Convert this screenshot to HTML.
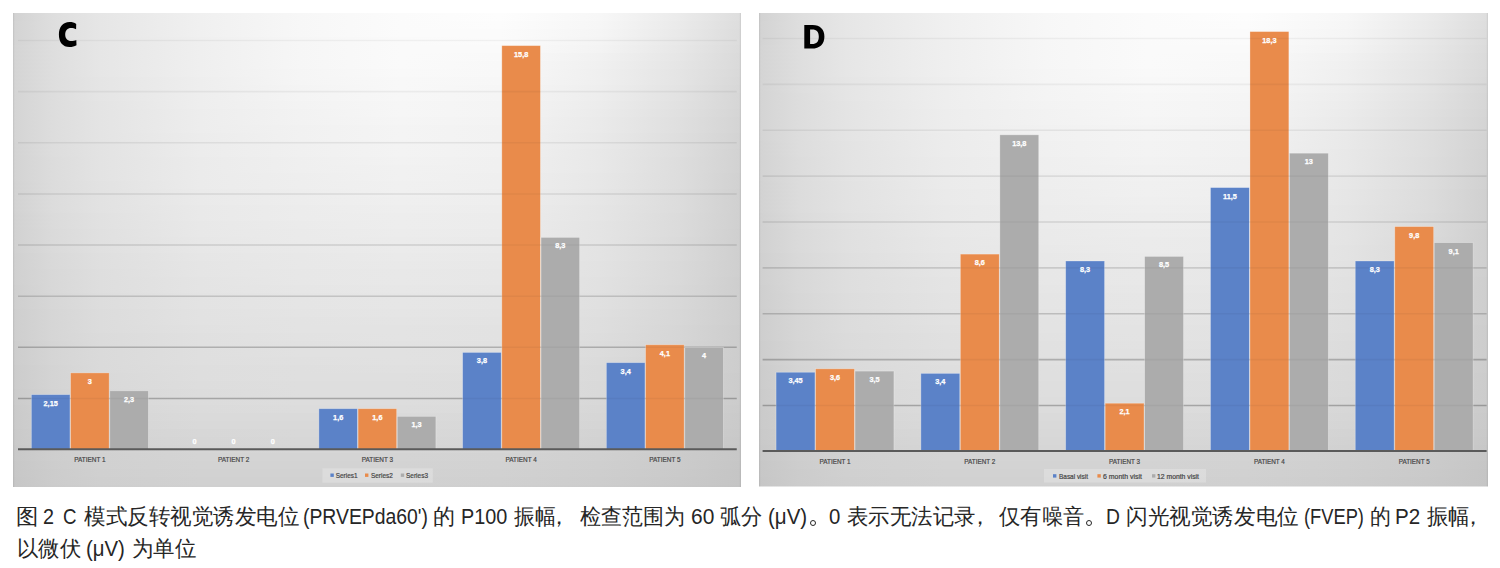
<!DOCTYPE html>
<html><head><meta charset="utf-8">
<style>
html,body{margin:0;padding:0;background:#fff;width:1500px;height:568px;overflow:hidden;}
svg{position:absolute;left:0;top:0;}
.vl{font-family:"Liberation Sans",sans-serif;font-size:7.3px;font-weight:bold;fill:#fff;stroke:#fff;stroke-width:0.25px;text-anchor:middle;}
.cl{font-family:"Liberation Sans",sans-serif;font-size:7.4px;fill:#444;stroke:#444;stroke-width:0.2px;text-anchor:middle;}
.lg{font-family:"Liberation Sans",sans-serif;font-size:7.2px;fill:#444;stroke:#444;stroke-width:0.2px;}
.ti{font-family:"Liberation Sans",sans-serif;font-size:33px;font-weight:bold;fill:#000;stroke:#000;stroke-width:1.4px;}
.dot{position:absolute;width:4.1px;height:4.1px;border:1.1px solid #262626;border-radius:50%;}
.cap{position:absolute;font-family:"Liberation Sans",sans-serif;font-size:21px;line-height:30px;color:#262626;white-space:nowrap;transform-origin:0 0;}
</style></head><body>
<svg width="1500" height="568" viewBox="0 0 1500 568">
<defs><linearGradient id="gc0" x1="0" x2="1" y1="0" y2="0"><stop offset="0.000" stop-color="rgb(210,210,210)"/><stop offset="0.055" stop-color="rgb(222,222,222)"/><stop offset="0.120" stop-color="rgb(230,230,230)"/><stop offset="0.257" stop-color="rgb(240,240,240)"/><stop offset="0.394" stop-color="rgb(247,247,247)"/><stop offset="0.532" stop-color="rgb(251,251,251)"/><stop offset="0.669" stop-color="rgb(253,253,253)"/><stop offset="0.806" stop-color="rgb(247,247,247)"/><stop offset="0.916" stop-color="rgb(235,235,235)"/><stop offset="1.000" stop-color="rgb(222,222,222)"/></linearGradient>
<linearGradient id="gc1" x1="0" x2="1" y1="0" y2="0"><stop offset="0.000" stop-color="rgb(211,211,211)"/><stop offset="0.055" stop-color="rgb(222,222,222)"/><stop offset="0.120" stop-color="rgb(230,230,230)"/><stop offset="0.257" stop-color="rgb(240,240,240)"/><stop offset="0.394" stop-color="rgb(247,247,247)"/><stop offset="0.532" stop-color="rgb(251,251,251)"/><stop offset="0.669" stop-color="rgb(252,252,252)"/><stop offset="0.806" stop-color="rgb(246,246,246)"/><stop offset="0.916" stop-color="rgb(234,234,234)"/><stop offset="1.000" stop-color="rgb(221,221,221)"/></linearGradient>
<linearGradient id="gc2" x1="0" x2="1" y1="0" y2="0"><stop offset="0.000" stop-color="rgb(211,211,211)"/><stop offset="0.055" stop-color="rgb(222,222,222)"/><stop offset="0.120" stop-color="rgb(230,230,230)"/><stop offset="0.257" stop-color="rgb(240,240,240)"/><stop offset="0.394" stop-color="rgb(247,247,247)"/><stop offset="0.532" stop-color="rgb(251,251,251)"/><stop offset="0.669" stop-color="rgb(251,251,251)"/><stop offset="0.806" stop-color="rgb(245,245,245)"/><stop offset="0.916" stop-color="rgb(233,233,233)"/><stop offset="1.000" stop-color="rgb(220,220,220)"/></linearGradient>
<linearGradient id="gc3" x1="0" x2="1" y1="0" y2="0"><stop offset="0.000" stop-color="rgb(211,211,211)"/><stop offset="0.055" stop-color="rgb(222,222,222)"/><stop offset="0.120" stop-color="rgb(230,230,230)"/><stop offset="0.257" stop-color="rgb(239,239,239)"/><stop offset="0.394" stop-color="rgb(246,246,246)"/><stop offset="0.532" stop-color="rgb(250,250,250)"/><stop offset="0.669" stop-color="rgb(251,251,251)"/><stop offset="0.806" stop-color="rgb(244,244,244)"/><stop offset="0.916" stop-color="rgb(232,232,232)"/><stop offset="1.000" stop-color="rgb(220,220,220)"/></linearGradient>
<linearGradient id="gc4" x1="0" x2="1" y1="0" y2="0"><stop offset="0.000" stop-color="rgb(212,212,212)"/><stop offset="0.055" stop-color="rgb(222,222,222)"/><stop offset="0.120" stop-color="rgb(230,230,230)"/><stop offset="0.257" stop-color="rgb(239,239,239)"/><stop offset="0.394" stop-color="rgb(246,246,246)"/><stop offset="0.532" stop-color="rgb(250,250,250)"/><stop offset="0.669" stop-color="rgb(250,250,250)"/><stop offset="0.806" stop-color="rgb(243,243,243)"/><stop offset="0.916" stop-color="rgb(231,231,231)"/><stop offset="1.000" stop-color="rgb(219,219,219)"/></linearGradient>
<linearGradient id="gc5" x1="0" x2="1" y1="0" y2="0"><stop offset="0.000" stop-color="rgb(212,212,212)"/><stop offset="0.055" stop-color="rgb(222,222,222)"/><stop offset="0.120" stop-color="rgb(230,230,230)"/><stop offset="0.257" stop-color="rgb(239,239,239)"/><stop offset="0.394" stop-color="rgb(246,246,246)"/><stop offset="0.532" stop-color="rgb(250,250,250)"/><stop offset="0.669" stop-color="rgb(249,249,249)"/><stop offset="0.806" stop-color="rgb(241,241,241)"/><stop offset="0.916" stop-color="rgb(230,230,230)"/><stop offset="1.000" stop-color="rgb(218,218,218)"/></linearGradient>
<linearGradient id="gc6" x1="0" x2="1" y1="0" y2="0"><stop offset="0.000" stop-color="rgb(212,212,212)"/><stop offset="0.055" stop-color="rgb(222,222,222)"/><stop offset="0.120" stop-color="rgb(230,230,230)"/><stop offset="0.257" stop-color="rgb(239,239,239)"/><stop offset="0.394" stop-color="rgb(246,246,246)"/><stop offset="0.532" stop-color="rgb(250,250,250)"/><stop offset="0.669" stop-color="rgb(248,248,248)"/><stop offset="0.806" stop-color="rgb(240,240,240)"/><stop offset="0.916" stop-color="rgb(229,229,229)"/><stop offset="1.000" stop-color="rgb(218,218,218)"/></linearGradient>
<linearGradient id="gc7" x1="0" x2="1" y1="0" y2="0"><stop offset="0.000" stop-color="rgb(212,212,212)"/><stop offset="0.055" stop-color="rgb(222,222,222)"/><stop offset="0.120" stop-color="rgb(230,230,230)"/><stop offset="0.257" stop-color="rgb(239,239,239)"/><stop offset="0.394" stop-color="rgb(245,245,245)"/><stop offset="0.532" stop-color="rgb(249,249,249)"/><stop offset="0.669" stop-color="rgb(248,248,248)"/><stop offset="0.806" stop-color="rgb(239,239,239)"/><stop offset="0.916" stop-color="rgb(228,228,228)"/><stop offset="1.000" stop-color="rgb(217,217,217)"/></linearGradient>
<linearGradient id="gc8" x1="0" x2="1" y1="0" y2="0"><stop offset="0.000" stop-color="rgb(212,212,212)"/><stop offset="0.055" stop-color="rgb(222,222,222)"/><stop offset="0.120" stop-color="rgb(229,229,229)"/><stop offset="0.257" stop-color="rgb(238,238,238)"/><stop offset="0.394" stop-color="rgb(245,245,245)"/><stop offset="0.532" stop-color="rgb(248,248,248)"/><stop offset="0.669" stop-color="rgb(247,247,247)"/><stop offset="0.806" stop-color="rgb(239,239,239)"/><stop offset="0.916" stop-color="rgb(228,228,228)"/><stop offset="1.000" stop-color="rgb(216,216,216)"/></linearGradient>
<linearGradient id="gc9" x1="0" x2="1" y1="0" y2="0"><stop offset="0.000" stop-color="rgb(212,212,212)"/><stop offset="0.055" stop-color="rgb(222,222,222)"/><stop offset="0.120" stop-color="rgb(229,229,229)"/><stop offset="0.257" stop-color="rgb(238,238,238)"/><stop offset="0.394" stop-color="rgb(244,244,244)"/><stop offset="0.532" stop-color="rgb(248,248,248)"/><stop offset="0.669" stop-color="rgb(246,246,246)"/><stop offset="0.806" stop-color="rgb(238,238,238)"/><stop offset="0.916" stop-color="rgb(227,227,227)"/><stop offset="1.000" stop-color="rgb(215,215,215)"/></linearGradient>
<linearGradient id="gc10" x1="0" x2="1" y1="0" y2="0"><stop offset="0.000" stop-color="rgb(212,212,212)"/><stop offset="0.055" stop-color="rgb(221,221,221)"/><stop offset="0.120" stop-color="rgb(229,229,229)"/><stop offset="0.257" stop-color="rgb(238,238,238)"/><stop offset="0.394" stop-color="rgb(244,244,244)"/><stop offset="0.532" stop-color="rgb(247,247,247)"/><stop offset="0.669" stop-color="rgb(245,245,245)"/><stop offset="0.806" stop-color="rgb(237,237,237)"/><stop offset="0.916" stop-color="rgb(226,226,226)"/><stop offset="1.000" stop-color="rgb(214,214,214)"/></linearGradient>
<linearGradient id="gc11" x1="0" x2="1" y1="0" y2="0"><stop offset="0.000" stop-color="rgb(212,212,212)"/><stop offset="0.055" stop-color="rgb(221,221,221)"/><stop offset="0.120" stop-color="rgb(228,228,228)"/><stop offset="0.257" stop-color="rgb(238,238,238)"/><stop offset="0.394" stop-color="rgb(243,243,243)"/><stop offset="0.532" stop-color="rgb(246,246,246)"/><stop offset="0.669" stop-color="rgb(244,244,244)"/><stop offset="0.806" stop-color="rgb(236,236,236)"/><stop offset="0.916" stop-color="rgb(225,225,225)"/><stop offset="1.000" stop-color="rgb(214,214,214)"/></linearGradient>
<linearGradient id="gc12" x1="0" x2="1" y1="0" y2="0"><stop offset="0.000" stop-color="rgb(212,212,212)"/><stop offset="0.055" stop-color="rgb(221,221,221)"/><stop offset="0.120" stop-color="rgb(228,228,228)"/><stop offset="0.257" stop-color="rgb(237,237,237)"/><stop offset="0.394" stop-color="rgb(242,242,242)"/><stop offset="0.532" stop-color="rgb(246,246,246)"/><stop offset="0.669" stop-color="rgb(244,244,244)"/><stop offset="0.806" stop-color="rgb(235,235,235)"/><stop offset="0.916" stop-color="rgb(224,224,224)"/><stop offset="1.000" stop-color="rgb(213,213,213)"/></linearGradient>
<linearGradient id="gc13" x1="0" x2="1" y1="0" y2="0"><stop offset="0.000" stop-color="rgb(212,212,212)"/><stop offset="0.055" stop-color="rgb(221,221,221)"/><stop offset="0.120" stop-color="rgb(228,228,228)"/><stop offset="0.257" stop-color="rgb(237,237,237)"/><stop offset="0.394" stop-color="rgb(242,242,242)"/><stop offset="0.532" stop-color="rgb(245,245,245)"/><stop offset="0.669" stop-color="rgb(243,243,243)"/><stop offset="0.806" stop-color="rgb(234,234,234)"/><stop offset="0.916" stop-color="rgb(223,223,223)"/><stop offset="1.000" stop-color="rgb(212,212,212)"/></linearGradient>
<linearGradient id="gc14" x1="0" x2="1" y1="0" y2="0"><stop offset="0.000" stop-color="rgb(212,212,212)"/><stop offset="0.055" stop-color="rgb(221,221,221)"/><stop offset="0.120" stop-color="rgb(228,228,228)"/><stop offset="0.257" stop-color="rgb(237,237,237)"/><stop offset="0.394" stop-color="rgb(241,241,241)"/><stop offset="0.532" stop-color="rgb(244,244,244)"/><stop offset="0.669" stop-color="rgb(242,242,242)"/><stop offset="0.806" stop-color="rgb(234,234,234)"/><stop offset="0.916" stop-color="rgb(223,223,223)"/><stop offset="1.000" stop-color="rgb(212,212,212)"/></linearGradient>
<linearGradient id="gc15" x1="0" x2="1" y1="0" y2="0"><stop offset="0.000" stop-color="rgb(212,212,212)"/><stop offset="0.055" stop-color="rgb(221,221,221)"/><stop offset="0.120" stop-color="rgb(228,228,228)"/><stop offset="0.257" stop-color="rgb(236,236,236)"/><stop offset="0.394" stop-color="rgb(241,241,241)"/><stop offset="0.532" stop-color="rgb(244,244,244)"/><stop offset="0.669" stop-color="rgb(242,242,242)"/><stop offset="0.806" stop-color="rgb(233,233,233)"/><stop offset="0.916" stop-color="rgb(222,222,222)"/><stop offset="1.000" stop-color="rgb(211,211,211)"/></linearGradient>
<linearGradient id="gc16" x1="0" x2="1" y1="0" y2="0"><stop offset="0.000" stop-color="rgb(211,211,211)"/><stop offset="0.055" stop-color="rgb(221,221,221)"/><stop offset="0.120" stop-color="rgb(227,227,227)"/><stop offset="0.257" stop-color="rgb(236,236,236)"/><stop offset="0.394" stop-color="rgb(240,240,240)"/><stop offset="0.532" stop-color="rgb(243,243,243)"/><stop offset="0.669" stop-color="rgb(241,241,241)"/><stop offset="0.806" stop-color="rgb(233,233,233)"/><stop offset="0.916" stop-color="rgb(222,222,222)"/><stop offset="1.000" stop-color="rgb(211,211,211)"/></linearGradient>
<linearGradient id="gc17" x1="0" x2="1" y1="0" y2="0"><stop offset="0.000" stop-color="rgb(211,211,211)"/><stop offset="0.055" stop-color="rgb(221,221,221)"/><stop offset="0.120" stop-color="rgb(227,227,227)"/><stop offset="0.257" stop-color="rgb(236,236,236)"/><stop offset="0.394" stop-color="rgb(240,240,240)"/><stop offset="0.532" stop-color="rgb(243,243,243)"/><stop offset="0.669" stop-color="rgb(241,241,241)"/><stop offset="0.806" stop-color="rgb(232,232,232)"/><stop offset="0.916" stop-color="rgb(222,222,222)"/><stop offset="1.000" stop-color="rgb(210,210,210)"/></linearGradient>
<linearGradient id="gc18" x1="0" x2="1" y1="0" y2="0"><stop offset="0.000" stop-color="rgb(211,211,211)"/><stop offset="0.055" stop-color="rgb(220,220,220)"/><stop offset="0.120" stop-color="rgb(227,227,227)"/><stop offset="0.257" stop-color="rgb(235,235,235)"/><stop offset="0.394" stop-color="rgb(239,239,239)"/><stop offset="0.532" stop-color="rgb(242,242,242)"/><stop offset="0.669" stop-color="rgb(240,240,240)"/><stop offset="0.806" stop-color="rgb(232,232,232)"/><stop offset="0.916" stop-color="rgb(221,221,221)"/><stop offset="1.000" stop-color="rgb(210,210,210)"/></linearGradient>
<linearGradient id="gc19" x1="0" x2="1" y1="0" y2="0"><stop offset="0.000" stop-color="rgb(211,211,211)"/><stop offset="0.055" stop-color="rgb(220,220,220)"/><stop offset="0.120" stop-color="rgb(227,227,227)"/><stop offset="0.257" stop-color="rgb(235,235,235)"/><stop offset="0.394" stop-color="rgb(239,239,239)"/><stop offset="0.532" stop-color="rgb(241,241,241)"/><stop offset="0.669" stop-color="rgb(240,240,240)"/><stop offset="0.806" stop-color="rgb(232,232,232)"/><stop offset="0.916" stop-color="rgb(221,221,221)"/><stop offset="1.000" stop-color="rgb(210,210,210)"/></linearGradient>
<linearGradient id="gc20" x1="0" x2="1" y1="0" y2="0"><stop offset="0.000" stop-color="rgb(211,211,211)"/><stop offset="0.055" stop-color="rgb(220,220,220)"/><stop offset="0.120" stop-color="rgb(227,227,227)"/><stop offset="0.257" stop-color="rgb(235,235,235)"/><stop offset="0.394" stop-color="rgb(238,238,238)"/><stop offset="0.532" stop-color="rgb(241,241,241)"/><stop offset="0.669" stop-color="rgb(239,239,239)"/><stop offset="0.806" stop-color="rgb(231,231,231)"/><stop offset="0.916" stop-color="rgb(221,221,221)"/><stop offset="1.000" stop-color="rgb(209,209,209)"/></linearGradient>
<linearGradient id="gc21" x1="0" x2="1" y1="0" y2="0"><stop offset="0.000" stop-color="rgb(210,210,210)"/><stop offset="0.055" stop-color="rgb(220,220,220)"/><stop offset="0.120" stop-color="rgb(226,226,226)"/><stop offset="0.257" stop-color="rgb(235,235,235)"/><stop offset="0.394" stop-color="rgb(238,238,238)"/><stop offset="0.532" stop-color="rgb(240,240,240)"/><stop offset="0.669" stop-color="rgb(239,239,239)"/><stop offset="0.806" stop-color="rgb(231,231,231)"/><stop offset="0.916" stop-color="rgb(221,221,221)"/><stop offset="1.000" stop-color="rgb(209,209,209)"/></linearGradient>
<linearGradient id="gc22" x1="0" x2="1" y1="0" y2="0"><stop offset="0.000" stop-color="rgb(210,210,210)"/><stop offset="0.055" stop-color="rgb(220,220,220)"/><stop offset="0.120" stop-color="rgb(226,226,226)"/><stop offset="0.257" stop-color="rgb(234,234,234)"/><stop offset="0.394" stop-color="rgb(237,237,237)"/><stop offset="0.532" stop-color="rgb(240,240,240)"/><stop offset="0.669" stop-color="rgb(238,238,238)"/><stop offset="0.806" stop-color="rgb(230,230,230)"/><stop offset="0.916" stop-color="rgb(220,220,220)"/><stop offset="1.000" stop-color="rgb(208,208,208)"/></linearGradient>
<linearGradient id="gc23" x1="0" x2="1" y1="0" y2="0"><stop offset="0.000" stop-color="rgb(210,210,210)"/><stop offset="0.055" stop-color="rgb(220,220,220)"/><stop offset="0.120" stop-color="rgb(226,226,226)"/><stop offset="0.257" stop-color="rgb(234,234,234)"/><stop offset="0.394" stop-color="rgb(237,237,237)"/><stop offset="0.532" stop-color="rgb(239,239,239)"/><stop offset="0.669" stop-color="rgb(238,238,238)"/><stop offset="0.806" stop-color="rgb(230,230,230)"/><stop offset="0.916" stop-color="rgb(220,220,220)"/><stop offset="1.000" stop-color="rgb(208,208,208)"/></linearGradient>
<linearGradient id="gc24" x1="0" x2="1" y1="0" y2="0"><stop offset="0.000" stop-color="rgb(210,210,210)"/><stop offset="0.055" stop-color="rgb(220,220,220)"/><stop offset="0.120" stop-color="rgb(226,226,226)"/><stop offset="0.257" stop-color="rgb(233,233,233)"/><stop offset="0.394" stop-color="rgb(236,236,236)"/><stop offset="0.532" stop-color="rgb(238,238,238)"/><stop offset="0.669" stop-color="rgb(237,237,237)"/><stop offset="0.806" stop-color="rgb(229,229,229)"/><stop offset="0.916" stop-color="rgb(220,220,220)"/><stop offset="1.000" stop-color="rgb(208,208,208)"/></linearGradient>
<linearGradient id="gc25" x1="0" x2="1" y1="0" y2="0"><stop offset="0.000" stop-color="rgb(209,209,209)"/><stop offset="0.055" stop-color="rgb(219,219,219)"/><stop offset="0.120" stop-color="rgb(225,225,225)"/><stop offset="0.257" stop-color="rgb(233,233,233)"/><stop offset="0.394" stop-color="rgb(236,236,236)"/><stop offset="0.532" stop-color="rgb(237,237,237)"/><stop offset="0.669" stop-color="rgb(236,236,236)"/><stop offset="0.806" stop-color="rgb(229,229,229)"/><stop offset="0.916" stop-color="rgb(219,219,219)"/><stop offset="1.000" stop-color="rgb(208,208,208)"/></linearGradient>
<linearGradient id="gc26" x1="0" x2="1" y1="0" y2="0"><stop offset="0.000" stop-color="rgb(209,209,209)"/><stop offset="0.055" stop-color="rgb(219,219,219)"/><stop offset="0.120" stop-color="rgb(225,225,225)"/><stop offset="0.257" stop-color="rgb(232,232,232)"/><stop offset="0.394" stop-color="rgb(235,235,235)"/><stop offset="0.532" stop-color="rgb(237,237,237)"/><stop offset="0.669" stop-color="rgb(236,236,236)"/><stop offset="0.806" stop-color="rgb(228,228,228)"/><stop offset="0.916" stop-color="rgb(219,219,219)"/><stop offset="1.000" stop-color="rgb(208,208,208)"/></linearGradient>
<linearGradient id="gc27" x1="0" x2="1" y1="0" y2="0"><stop offset="0.000" stop-color="rgb(209,209,209)"/><stop offset="0.055" stop-color="rgb(218,218,218)"/><stop offset="0.120" stop-color="rgb(224,224,224)"/><stop offset="0.257" stop-color="rgb(232,232,232)"/><stop offset="0.394" stop-color="rgb(234,234,234)"/><stop offset="0.532" stop-color="rgb(236,236,236)"/><stop offset="0.669" stop-color="rgb(235,235,235)"/><stop offset="0.806" stop-color="rgb(228,228,228)"/><stop offset="0.916" stop-color="rgb(219,219,219)"/><stop offset="1.000" stop-color="rgb(207,207,207)"/></linearGradient>
<linearGradient id="gc28" x1="0" x2="1" y1="0" y2="0"><stop offset="0.000" stop-color="rgb(209,209,209)"/><stop offset="0.055" stop-color="rgb(218,218,218)"/><stop offset="0.120" stop-color="rgb(224,224,224)"/><stop offset="0.257" stop-color="rgb(231,231,231)"/><stop offset="0.394" stop-color="rgb(234,234,234)"/><stop offset="0.532" stop-color="rgb(235,235,235)"/><stop offset="0.669" stop-color="rgb(234,234,234)"/><stop offset="0.806" stop-color="rgb(228,228,228)"/><stop offset="0.916" stop-color="rgb(218,218,218)"/><stop offset="1.000" stop-color="rgb(207,207,207)"/></linearGradient>
<linearGradient id="gc29" x1="0" x2="1" y1="0" y2="0"><stop offset="0.000" stop-color="rgb(209,209,209)"/><stop offset="0.055" stop-color="rgb(218,218,218)"/><stop offset="0.120" stop-color="rgb(224,224,224)"/><stop offset="0.257" stop-color="rgb(231,231,231)"/><stop offset="0.394" stop-color="rgb(233,233,233)"/><stop offset="0.532" stop-color="rgb(235,235,235)"/><stop offset="0.669" stop-color="rgb(234,234,234)"/><stop offset="0.806" stop-color="rgb(227,227,227)"/><stop offset="0.916" stop-color="rgb(218,218,218)"/><stop offset="1.000" stop-color="rgb(207,207,207)"/></linearGradient>
<linearGradient id="gc30" x1="0" x2="1" y1="0" y2="0"><stop offset="0.000" stop-color="rgb(208,208,208)"/><stop offset="0.055" stop-color="rgb(217,217,217)"/><stop offset="0.120" stop-color="rgb(223,223,223)"/><stop offset="0.257" stop-color="rgb(230,230,230)"/><stop offset="0.394" stop-color="rgb(232,232,232)"/><stop offset="0.532" stop-color="rgb(234,234,234)"/><stop offset="0.669" stop-color="rgb(233,233,233)"/><stop offset="0.806" stop-color="rgb(227,227,227)"/><stop offset="0.916" stop-color="rgb(218,218,218)"/><stop offset="1.000" stop-color="rgb(207,207,207)"/></linearGradient>
<linearGradient id="gc31" x1="0" x2="1" y1="0" y2="0"><stop offset="0.000" stop-color="rgb(208,208,208)"/><stop offset="0.055" stop-color="rgb(217,217,217)"/><stop offset="0.120" stop-color="rgb(223,223,223)"/><stop offset="0.257" stop-color="rgb(229,229,229)"/><stop offset="0.394" stop-color="rgb(232,232,232)"/><stop offset="0.532" stop-color="rgb(233,233,233)"/><stop offset="0.669" stop-color="rgb(232,232,232)"/><stop offset="0.806" stop-color="rgb(226,226,226)"/><stop offset="0.916" stop-color="rgb(217,217,217)"/><stop offset="1.000" stop-color="rgb(207,207,207)"/></linearGradient>
<linearGradient id="gc32" x1="0" x2="1" y1="0" y2="0"><stop offset="0.000" stop-color="rgb(208,208,208)"/><stop offset="0.055" stop-color="rgb(216,216,216)"/><stop offset="0.120" stop-color="rgb(222,222,222)"/><stop offset="0.257" stop-color="rgb(229,229,229)"/><stop offset="0.394" stop-color="rgb(231,231,231)"/><stop offset="0.532" stop-color="rgb(232,232,232)"/><stop offset="0.669" stop-color="rgb(231,231,231)"/><stop offset="0.806" stop-color="rgb(226,226,226)"/><stop offset="0.916" stop-color="rgb(217,217,217)"/><stop offset="1.000" stop-color="rgb(207,207,207)"/></linearGradient>
<linearGradient id="gc33" x1="0" x2="1" y1="0" y2="0"><stop offset="0.000" stop-color="rgb(208,208,208)"/><stop offset="0.055" stop-color="rgb(216,216,216)"/><stop offset="0.120" stop-color="rgb(222,222,222)"/><stop offset="0.257" stop-color="rgb(228,228,228)"/><stop offset="0.394" stop-color="rgb(231,231,231)"/><stop offset="0.532" stop-color="rgb(232,232,232)"/><stop offset="0.669" stop-color="rgb(231,231,231)"/><stop offset="0.806" stop-color="rgb(225,225,225)"/><stop offset="0.916" stop-color="rgb(217,217,217)"/><stop offset="1.000" stop-color="rgb(206,206,206)"/></linearGradient>
<linearGradient id="gc34" x1="0" x2="1" y1="0" y2="0"><stop offset="0.000" stop-color="rgb(207,207,207)"/><stop offset="0.055" stop-color="rgb(216,216,216)"/><stop offset="0.120" stop-color="rgb(222,222,222)"/><stop offset="0.257" stop-color="rgb(228,228,228)"/><stop offset="0.394" stop-color="rgb(230,230,230)"/><stop offset="0.532" stop-color="rgb(231,231,231)"/><stop offset="0.669" stop-color="rgb(230,230,230)"/><stop offset="0.806" stop-color="rgb(225,225,225)"/><stop offset="0.916" stop-color="rgb(216,216,216)"/><stop offset="1.000" stop-color="rgb(206,206,206)"/></linearGradient>
<linearGradient id="gc35" x1="0" x2="1" y1="0" y2="0"><stop offset="0.000" stop-color="rgb(207,207,207)"/><stop offset="0.055" stop-color="rgb(215,215,215)"/><stop offset="0.120" stop-color="rgb(221,221,221)"/><stop offset="0.257" stop-color="rgb(227,227,227)"/><stop offset="0.394" stop-color="rgb(229,229,229)"/><stop offset="0.532" stop-color="rgb(230,230,230)"/><stop offset="0.669" stop-color="rgb(229,229,229)"/><stop offset="0.806" stop-color="rgb(224,224,224)"/><stop offset="0.916" stop-color="rgb(216,216,216)"/><stop offset="1.000" stop-color="rgb(206,206,206)"/></linearGradient>
<linearGradient id="gc36" x1="0" x2="1" y1="0" y2="0"><stop offset="0.000" stop-color="rgb(207,207,207)"/><stop offset="0.055" stop-color="rgb(215,215,215)"/><stop offset="0.120" stop-color="rgb(221,221,221)"/><stop offset="0.257" stop-color="rgb(227,227,227)"/><stop offset="0.394" stop-color="rgb(229,229,229)"/><stop offset="0.532" stop-color="rgb(230,230,230)"/><stop offset="0.669" stop-color="rgb(229,229,229)"/><stop offset="0.806" stop-color="rgb(224,224,224)"/><stop offset="0.916" stop-color="rgb(216,216,216)"/><stop offset="1.000" stop-color="rgb(206,206,206)"/></linearGradient>
<linearGradient id="gc37" x1="0" x2="1" y1="0" y2="0"><stop offset="0.000" stop-color="rgb(206,206,206)"/><stop offset="0.055" stop-color="rgb(214,214,214)"/><stop offset="0.120" stop-color="rgb(220,220,220)"/><stop offset="0.257" stop-color="rgb(226,226,226)"/><stop offset="0.394" stop-color="rgb(228,228,228)"/><stop offset="0.532" stop-color="rgb(229,229,229)"/><stop offset="0.669" stop-color="rgb(228,228,228)"/><stop offset="0.806" stop-color="rgb(223,223,223)"/><stop offset="0.916" stop-color="rgb(215,215,215)"/><stop offset="1.000" stop-color="rgb(206,206,206)"/></linearGradient>
<linearGradient id="gc38" x1="0" x2="1" y1="0" y2="0"><stop offset="0.000" stop-color="rgb(206,206,206)"/><stop offset="0.055" stop-color="rgb(214,214,214)"/><stop offset="0.120" stop-color="rgb(220,220,220)"/><stop offset="0.257" stop-color="rgb(226,226,226)"/><stop offset="0.394" stop-color="rgb(227,227,227)"/><stop offset="0.532" stop-color="rgb(228,228,228)"/><stop offset="0.669" stop-color="rgb(227,227,227)"/><stop offset="0.806" stop-color="rgb(222,222,222)"/><stop offset="0.916" stop-color="rgb(215,215,215)"/><stop offset="1.000" stop-color="rgb(206,206,206)"/></linearGradient>
<linearGradient id="gc39" x1="0" x2="1" y1="0" y2="0"><stop offset="0.000" stop-color="rgb(206,206,206)"/><stop offset="0.055" stop-color="rgb(214,214,214)"/><stop offset="0.120" stop-color="rgb(220,220,220)"/><stop offset="0.257" stop-color="rgb(225,225,225)"/><stop offset="0.394" stop-color="rgb(227,227,227)"/><stop offset="0.532" stop-color="rgb(227,227,227)"/><stop offset="0.669" stop-color="rgb(226,226,226)"/><stop offset="0.806" stop-color="rgb(222,222,222)"/><stop offset="0.916" stop-color="rgb(214,214,214)"/><stop offset="1.000" stop-color="rgb(205,205,205)"/></linearGradient>
<linearGradient id="gc40" x1="0" x2="1" y1="0" y2="0"><stop offset="0.000" stop-color="rgb(206,206,206)"/><stop offset="0.055" stop-color="rgb(214,214,214)"/><stop offset="0.120" stop-color="rgb(219,219,219)"/><stop offset="0.257" stop-color="rgb(224,224,224)"/><stop offset="0.394" stop-color="rgb(226,226,226)"/><stop offset="0.532" stop-color="rgb(227,227,227)"/><stop offset="0.669" stop-color="rgb(226,226,226)"/><stop offset="0.806" stop-color="rgb(221,221,221)"/><stop offset="0.916" stop-color="rgb(214,214,214)"/><stop offset="1.000" stop-color="rgb(205,205,205)"/></linearGradient>
<linearGradient id="gc41" x1="0" x2="1" y1="0" y2="0"><stop offset="0.000" stop-color="rgb(205,205,205)"/><stop offset="0.055" stop-color="rgb(213,213,213)"/><stop offset="0.120" stop-color="rgb(219,219,219)"/><stop offset="0.257" stop-color="rgb(224,224,224)"/><stop offset="0.394" stop-color="rgb(225,225,225)"/><stop offset="0.532" stop-color="rgb(226,226,226)"/><stop offset="0.669" stop-color="rgb(225,225,225)"/><stop offset="0.806" stop-color="rgb(220,220,220)"/><stop offset="0.916" stop-color="rgb(213,213,213)"/><stop offset="1.000" stop-color="rgb(205,205,205)"/></linearGradient>
<linearGradient id="gc42" x1="0" x2="1" y1="0" y2="0"><stop offset="0.000" stop-color="rgb(205,205,205)"/><stop offset="0.055" stop-color="rgb(213,213,213)"/><stop offset="0.120" stop-color="rgb(218,218,218)"/><stop offset="0.257" stop-color="rgb(223,223,223)"/><stop offset="0.394" stop-color="rgb(225,225,225)"/><stop offset="0.532" stop-color="rgb(225,225,225)"/><stop offset="0.669" stop-color="rgb(224,224,224)"/><stop offset="0.806" stop-color="rgb(220,220,220)"/><stop offset="0.916" stop-color="rgb(213,213,213)"/><stop offset="1.000" stop-color="rgb(205,205,205)"/></linearGradient>
<linearGradient id="gc43" x1="0" x2="1" y1="0" y2="0"><stop offset="0.000" stop-color="rgb(205,205,205)"/><stop offset="0.055" stop-color="rgb(213,213,213)"/><stop offset="0.120" stop-color="rgb(218,218,218)"/><stop offset="0.257" stop-color="rgb(223,223,223)"/><stop offset="0.394" stop-color="rgb(224,224,224)"/><stop offset="0.532" stop-color="rgb(225,225,225)"/><stop offset="0.669" stop-color="rgb(224,224,224)"/><stop offset="0.806" stop-color="rgb(219,219,219)"/><stop offset="0.916" stop-color="rgb(212,212,212)"/><stop offset="1.000" stop-color="rgb(205,205,205)"/></linearGradient>
<linearGradient id="gc44" x1="0" x2="1" y1="0" y2="0"><stop offset="0.000" stop-color="rgb(204,204,204)"/><stop offset="0.055" stop-color="rgb(212,212,212)"/><stop offset="0.120" stop-color="rgb(218,218,218)"/><stop offset="0.257" stop-color="rgb(222,222,222)"/><stop offset="0.394" stop-color="rgb(223,223,223)"/><stop offset="0.532" stop-color="rgb(224,224,224)"/><stop offset="0.669" stop-color="rgb(223,223,223)"/><stop offset="0.806" stop-color="rgb(218,218,218)"/><stop offset="0.916" stop-color="rgb(212,212,212)"/><stop offset="1.000" stop-color="rgb(205,205,205)"/></linearGradient>
<linearGradient id="gc45" x1="0" x2="1" y1="0" y2="0"><stop offset="0.000" stop-color="rgb(204,204,204)"/><stop offset="0.055" stop-color="rgb(212,212,212)"/><stop offset="0.120" stop-color="rgb(217,217,217)"/><stop offset="0.257" stop-color="rgb(222,222,222)"/><stop offset="0.394" stop-color="rgb(223,223,223)"/><stop offset="0.532" stop-color="rgb(223,223,223)"/><stop offset="0.669" stop-color="rgb(222,222,222)"/><stop offset="0.806" stop-color="rgb(218,218,218)"/><stop offset="0.916" stop-color="rgb(211,211,211)"/><stop offset="1.000" stop-color="rgb(204,204,204)"/></linearGradient>
<linearGradient id="gc46" x1="0" x2="1" y1="0" y2="0"><stop offset="0.000" stop-color="rgb(204,204,204)"/><stop offset="0.055" stop-color="rgb(212,212,212)"/><stop offset="0.120" stop-color="rgb(217,217,217)"/><stop offset="0.257" stop-color="rgb(221,221,221)"/><stop offset="0.394" stop-color="rgb(222,222,222)"/><stop offset="0.532" stop-color="rgb(222,222,222)"/><stop offset="0.669" stop-color="rgb(221,221,221)"/><stop offset="0.806" stop-color="rgb(217,217,217)"/><stop offset="0.916" stop-color="rgb(211,211,211)"/><stop offset="1.000" stop-color="rgb(204,204,204)"/></linearGradient>
<linearGradient id="gc47" x1="0" x2="1" y1="0" y2="0"><stop offset="0.000" stop-color="rgb(203,203,203)"/><stop offset="0.055" stop-color="rgb(211,211,211)"/><stop offset="0.120" stop-color="rgb(216,216,216)"/><stop offset="0.257" stop-color="rgb(220,220,220)"/><stop offset="0.394" stop-color="rgb(222,222,222)"/><stop offset="0.532" stop-color="rgb(222,222,222)"/><stop offset="0.669" stop-color="rgb(221,221,221)"/><stop offset="0.806" stop-color="rgb(217,217,217)"/><stop offset="0.916" stop-color="rgb(210,210,210)"/><stop offset="1.000" stop-color="rgb(204,204,204)"/></linearGradient>
<linearGradient id="gc48" x1="0" x2="1" y1="0" y2="0"><stop offset="0.000" stop-color="rgb(203,203,203)"/><stop offset="0.055" stop-color="rgb(211,211,211)"/><stop offset="0.120" stop-color="rgb(216,216,216)"/><stop offset="0.257" stop-color="rgb(220,220,220)"/><stop offset="0.394" stop-color="rgb(221,221,221)"/><stop offset="0.532" stop-color="rgb(221,221,221)"/><stop offset="0.669" stop-color="rgb(220,220,220)"/><stop offset="0.806" stop-color="rgb(216,216,216)"/><stop offset="0.916" stop-color="rgb(210,210,210)"/><stop offset="1.000" stop-color="rgb(204,204,204)"/></linearGradient>
<linearGradient id="gc49" x1="0" x2="1" y1="0" y2="0"><stop offset="0.000" stop-color="rgb(202,202,202)"/><stop offset="0.055" stop-color="rgb(210,210,210)"/><stop offset="0.120" stop-color="rgb(215,215,215)"/><stop offset="0.257" stop-color="rgb(219,219,219)"/><stop offset="0.394" stop-color="rgb(220,220,220)"/><stop offset="0.532" stop-color="rgb(220,220,220)"/><stop offset="0.669" stop-color="rgb(219,219,219)"/><stop offset="0.806" stop-color="rgb(215,215,215)"/><stop offset="0.916" stop-color="rgb(209,209,209)"/><stop offset="1.000" stop-color="rgb(203,203,203)"/></linearGradient>
<linearGradient id="gc50" x1="0" x2="1" y1="0" y2="0"><stop offset="0.000" stop-color="rgb(202,202,202)"/><stop offset="0.055" stop-color="rgb(209,209,209)"/><stop offset="0.120" stop-color="rgb(214,214,214)"/><stop offset="0.257" stop-color="rgb(218,218,218)"/><stop offset="0.394" stop-color="rgb(218,218,218)"/><stop offset="0.532" stop-color="rgb(218,218,218)"/><stop offset="0.669" stop-color="rgb(217,217,217)"/><stop offset="0.806" stop-color="rgb(214,214,214)"/><stop offset="0.916" stop-color="rgb(208,208,208)"/><stop offset="1.000" stop-color="rgb(202,202,202)"/></linearGradient>
<linearGradient id="gc51" x1="0" x2="1" y1="0" y2="0"><stop offset="0.000" stop-color="rgb(202,202,202)"/><stop offset="0.055" stop-color="rgb(209,209,209)"/><stop offset="0.120" stop-color="rgb(213,213,213)"/><stop offset="0.257" stop-color="rgb(217,217,217)"/><stop offset="0.394" stop-color="rgb(217,217,217)"/><stop offset="0.532" stop-color="rgb(217,217,217)"/><stop offset="0.669" stop-color="rgb(216,216,216)"/><stop offset="0.806" stop-color="rgb(213,213,213)"/><stop offset="0.916" stop-color="rgb(207,207,207)"/><stop offset="1.000" stop-color="rgb(202,202,202)"/></linearGradient>
<linearGradient id="gc52" x1="0" x2="1" y1="0" y2="0"><stop offset="0.000" stop-color="rgb(201,201,201)"/><stop offset="0.055" stop-color="rgb(208,208,208)"/><stop offset="0.120" stop-color="rgb(212,212,212)"/><stop offset="0.257" stop-color="rgb(215,215,215)"/><stop offset="0.394" stop-color="rgb(216,216,216)"/><stop offset="0.532" stop-color="rgb(216,216,216)"/><stop offset="0.669" stop-color="rgb(215,215,215)"/><stop offset="0.806" stop-color="rgb(211,211,211)"/><stop offset="0.916" stop-color="rgb(206,206,206)"/><stop offset="1.000" stop-color="rgb(201,201,201)"/></linearGradient>
<linearGradient id="gc53" x1="0" x2="1" y1="0" y2="0"><stop offset="0.000" stop-color="rgb(201,201,201)"/><stop offset="0.055" stop-color="rgb(207,207,207)"/><stop offset="0.120" stop-color="rgb(211,211,211)"/><stop offset="0.257" stop-color="rgb(214,214,214)"/><stop offset="0.394" stop-color="rgb(215,215,215)"/><stop offset="0.532" stop-color="rgb(215,215,215)"/><stop offset="0.669" stop-color="rgb(214,214,214)"/><stop offset="0.806" stop-color="rgb(210,210,210)"/><stop offset="0.916" stop-color="rgb(205,205,205)"/><stop offset="1.000" stop-color="rgb(200,200,200)"/></linearGradient>
<linearGradient id="gc54" x1="0" x2="1" y1="0" y2="0"><stop offset="0.000" stop-color="rgb(200,200,200)"/><stop offset="0.055" stop-color="rgb(206,206,206)"/><stop offset="0.120" stop-color="rgb(210,210,210)"/><stop offset="0.257" stop-color="rgb(213,213,213)"/><stop offset="0.394" stop-color="rgb(214,214,214)"/><stop offset="0.532" stop-color="rgb(214,214,214)"/><stop offset="0.669" stop-color="rgb(213,213,213)"/><stop offset="0.806" stop-color="rgb(209,209,209)"/><stop offset="0.916" stop-color="rgb(204,204,204)"/><stop offset="1.000" stop-color="rgb(199,199,199)"/></linearGradient>
<linearGradient id="gc55" x1="0" x2="1" y1="0" y2="0"><stop offset="0.000" stop-color="rgb(200,200,200)"/><stop offset="0.055" stop-color="rgb(206,206,206)"/><stop offset="0.120" stop-color="rgb(209,209,209)"/><stop offset="0.257" stop-color="rgb(212,212,212)"/><stop offset="0.394" stop-color="rgb(212,212,212)"/><stop offset="0.532" stop-color="rgb(212,212,212)"/><stop offset="0.669" stop-color="rgb(211,211,211)"/><stop offset="0.806" stop-color="rgb(208,208,208)"/><stop offset="0.916" stop-color="rgb(203,203,203)"/><stop offset="1.000" stop-color="rgb(199,199,199)"/></linearGradient>
<linearGradient id="gc56" x1="0" x2="1" y1="0" y2="0"><stop offset="0.000" stop-color="rgb(199,199,199)"/><stop offset="0.055" stop-color="rgb(205,205,205)"/><stop offset="0.120" stop-color="rgb(209,209,209)"/><stop offset="0.257" stop-color="rgb(211,211,211)"/><stop offset="0.394" stop-color="rgb(211,211,211)"/><stop offset="0.532" stop-color="rgb(211,211,211)"/><stop offset="0.669" stop-color="rgb(210,210,210)"/><stop offset="0.806" stop-color="rgb(207,207,207)"/><stop offset="0.916" stop-color="rgb(203,203,203)"/><stop offset="1.000" stop-color="rgb(198,198,198)"/></linearGradient>
<linearGradient id="gc57" x1="0" x2="1" y1="0" y2="0"><stop offset="0.000" stop-color="rgb(199,199,199)"/><stop offset="0.055" stop-color="rgb(204,204,204)"/><stop offset="0.120" stop-color="rgb(208,208,208)"/><stop offset="0.257" stop-color="rgb(210,210,210)"/><stop offset="0.394" stop-color="rgb(210,210,210)"/><stop offset="0.532" stop-color="rgb(210,210,210)"/><stop offset="0.669" stop-color="rgb(209,209,209)"/><stop offset="0.806" stop-color="rgb(206,206,206)"/><stop offset="0.916" stop-color="rgb(202,202,202)"/><stop offset="1.000" stop-color="rgb(197,197,197)"/></linearGradient>
<linearGradient id="gc58" x1="0" x2="1" y1="0" y2="0"><stop offset="0.000" stop-color="rgb(198,198,198)"/><stop offset="0.055" stop-color="rgb(204,204,204)"/><stop offset="0.120" stop-color="rgb(207,207,207)"/><stop offset="0.257" stop-color="rgb(209,209,209)"/><stop offset="0.394" stop-color="rgb(209,209,209)"/><stop offset="0.532" stop-color="rgb(209,209,209)"/><stop offset="0.669" stop-color="rgb(208,208,208)"/><stop offset="0.806" stop-color="rgb(205,205,205)"/><stop offset="0.916" stop-color="rgb(201,201,201)"/><stop offset="1.000" stop-color="rgb(197,197,197)"/></linearGradient>
<linearGradient id="gc59" x1="0" x2="1" y1="0" y2="0"><stop offset="0.000" stop-color="rgb(198,198,198)"/><stop offset="0.055" stop-color="rgb(203,203,203)"/><stop offset="0.120" stop-color="rgb(206,206,206)"/><stop offset="0.257" stop-color="rgb(208,208,208)"/><stop offset="0.394" stop-color="rgb(208,208,208)"/><stop offset="0.532" stop-color="rgb(208,208,208)"/><stop offset="0.669" stop-color="rgb(207,207,207)"/><stop offset="0.806" stop-color="rgb(204,204,204)"/><stop offset="0.916" stop-color="rgb(200,200,200)"/><stop offset="1.000" stop-color="rgb(196,196,196)"/></linearGradient></defs>
<rect x="13" y="13" width="728" height="8.5" fill="url(#gc0)"/>
<rect x="13" y="21" width="728" height="8.5" fill="url(#gc1)"/>
<rect x="13" y="29" width="728" height="8.5" fill="url(#gc2)"/>
<rect x="13" y="37" width="728" height="8.5" fill="url(#gc3)"/>
<rect x="13" y="45" width="728" height="8.5" fill="url(#gc4)"/>
<rect x="13" y="53" width="728" height="8.5" fill="url(#gc5)"/>
<rect x="13" y="61" width="728" height="8.5" fill="url(#gc6)"/>
<rect x="13" y="69" width="728" height="8.5" fill="url(#gc7)"/>
<rect x="13" y="77" width="728" height="8.5" fill="url(#gc8)"/>
<rect x="13" y="85" width="728" height="8.5" fill="url(#gc9)"/>
<rect x="13" y="93" width="728" height="8.5" fill="url(#gc10)"/>
<rect x="13" y="101" width="728" height="8.5" fill="url(#gc11)"/>
<rect x="13" y="109" width="728" height="8.5" fill="url(#gc12)"/>
<rect x="13" y="117" width="728" height="8.5" fill="url(#gc13)"/>
<rect x="13" y="125" width="728" height="8.5" fill="url(#gc14)"/>
<rect x="13" y="133" width="728" height="8.5" fill="url(#gc15)"/>
<rect x="13" y="141" width="728" height="8.5" fill="url(#gc16)"/>
<rect x="13" y="149" width="728" height="8.5" fill="url(#gc17)"/>
<rect x="13" y="157" width="728" height="8.5" fill="url(#gc18)"/>
<rect x="13" y="165" width="728" height="8.5" fill="url(#gc19)"/>
<rect x="13" y="173" width="728" height="8.5" fill="url(#gc20)"/>
<rect x="13" y="181" width="728" height="8.5" fill="url(#gc21)"/>
<rect x="13" y="189" width="728" height="8.5" fill="url(#gc22)"/>
<rect x="13" y="197" width="728" height="8.5" fill="url(#gc23)"/>
<rect x="13" y="205" width="728" height="8.5" fill="url(#gc24)"/>
<rect x="13" y="213" width="728" height="8.5" fill="url(#gc25)"/>
<rect x="13" y="221" width="728" height="8.5" fill="url(#gc26)"/>
<rect x="13" y="229" width="728" height="8.5" fill="url(#gc27)"/>
<rect x="13" y="237" width="728" height="8.5" fill="url(#gc28)"/>
<rect x="13" y="245" width="728" height="8.5" fill="url(#gc29)"/>
<rect x="13" y="253" width="728" height="8.5" fill="url(#gc30)"/>
<rect x="13" y="261" width="728" height="8.5" fill="url(#gc31)"/>
<rect x="13" y="269" width="728" height="8.5" fill="url(#gc32)"/>
<rect x="13" y="277" width="728" height="8.5" fill="url(#gc33)"/>
<rect x="13" y="285" width="728" height="8.5" fill="url(#gc34)"/>
<rect x="13" y="293" width="728" height="8.5" fill="url(#gc35)"/>
<rect x="13" y="301" width="728" height="8.5" fill="url(#gc36)"/>
<rect x="13" y="309" width="728" height="8.5" fill="url(#gc37)"/>
<rect x="13" y="317" width="728" height="8.5" fill="url(#gc38)"/>
<rect x="13" y="325" width="728" height="8.5" fill="url(#gc39)"/>
<rect x="13" y="333" width="728" height="8.5" fill="url(#gc40)"/>
<rect x="13" y="341" width="728" height="8.5" fill="url(#gc41)"/>
<rect x="13" y="349" width="728" height="8.5" fill="url(#gc42)"/>
<rect x="13" y="357" width="728" height="8.5" fill="url(#gc43)"/>
<rect x="13" y="365" width="728" height="8.5" fill="url(#gc44)"/>
<rect x="13" y="373" width="728" height="8.5" fill="url(#gc45)"/>
<rect x="13" y="381" width="728" height="8.5" fill="url(#gc46)"/>
<rect x="13" y="389" width="728" height="8.5" fill="url(#gc47)"/>
<rect x="13" y="397" width="728" height="8.5" fill="url(#gc48)"/>
<rect x="13" y="405" width="728" height="8.5" fill="url(#gc49)"/>
<rect x="13" y="413" width="728" height="8.5" fill="url(#gc50)"/>
<rect x="13" y="421" width="728" height="8.5" fill="url(#gc51)"/>
<rect x="13" y="429" width="728" height="8.5" fill="url(#gc52)"/>
<rect x="13" y="437" width="728" height="8.5" fill="url(#gc53)"/>
<rect x="13" y="445" width="728" height="8.5" fill="url(#gc54)"/>
<rect x="13" y="453" width="728" height="8.5" fill="url(#gc55)"/>
<rect x="13" y="461" width="728" height="8.5" fill="url(#gc56)"/>
<rect x="13" y="469" width="728" height="8.5" fill="url(#gc57)"/>
<rect x="13" y="477" width="728" height="8.5" fill="url(#gc58)"/>
<rect x="13" y="485" width="728" height="2" fill="url(#gc59)"/>
<rect x="13" y="13" width="1.2" height="474" fill="rgba(0,0,0,0.06)"/>
<rect x="739.8" y="13" width="1.2" height="474" fill="rgba(0,0,0,0.06)"/>
<line x1="18" x2="736.75" y1="398.45" y2="398.45" stroke="rgba(0,0,0,0.250)" stroke-width="1.6"/>
<line x1="18" x2="736.75" y1="347.32" y2="347.32" stroke="rgba(0,0,0,0.220)" stroke-width="1.6"/>
<line x1="18" x2="736.75" y1="296.19" y2="296.19" stroke="rgba(0,0,0,0.150)" stroke-width="1.6"/>
<line x1="18" x2="736.75" y1="245.06" y2="245.06" stroke="rgba(0,0,0,0.120)" stroke-width="1.6"/>
<line x1="18" x2="736.75" y1="193.93" y2="193.93" stroke="rgba(0,0,0,0.090)" stroke-width="1.6"/>
<line x1="18" x2="736.75" y1="142.80" y2="142.80" stroke="rgba(0,0,0,0.065)" stroke-width="1.6"/>
<line x1="18" x2="736.75" y1="91.67" y2="91.67" stroke="rgba(0,0,0,0.050)" stroke-width="1.6"/>
<line x1="18" x2="736.75" y1="40.54" y2="40.54" stroke="rgba(0,0,0,0.045)" stroke-width="1.6"/>
<rect x="31.37" y="394.62" width="38.60" height="54.96" fill="#5b82c8" stroke="rgba(255,255,255,0.35)" stroke-width="0.8"/>
<rect x="70.57" y="372.88" width="38.60" height="76.69" fill="#e98b4b" stroke="rgba(255,255,255,0.35)" stroke-width="0.8"/>
<rect x="109.78" y="390.78" width="38.60" height="58.80" fill="#acacac" stroke="rgba(255,255,255,0.35)" stroke-width="0.8"/>
<rect x="318.87" y="408.68" width="38.60" height="40.90" fill="#5b82c8" stroke="rgba(255,255,255,0.35)" stroke-width="0.8"/>
<rect x="358.07" y="408.68" width="38.60" height="40.90" fill="#e98b4b" stroke="rgba(255,255,255,0.35)" stroke-width="0.8"/>
<rect x="397.28" y="416.35" width="38.60" height="33.23" fill="#acacac" stroke="rgba(255,255,255,0.35)" stroke-width="0.8"/>
<rect x="462.62" y="352.43" width="38.60" height="97.15" fill="#5b82c8" stroke="rgba(255,255,255,0.35)" stroke-width="0.8"/>
<rect x="501.82" y="45.65" width="38.60" height="403.93" fill="#e98b4b" stroke="rgba(255,255,255,0.35)" stroke-width="0.8"/>
<rect x="541.03" y="237.39" width="38.60" height="212.19" fill="#acacac" stroke="rgba(255,255,255,0.35)" stroke-width="0.8"/>
<rect x="606.37" y="362.66" width="38.60" height="86.92" fill="#5b82c8" stroke="rgba(255,255,255,0.35)" stroke-width="0.8"/>
<rect x="645.57" y="344.76" width="38.60" height="104.82" fill="#e98b4b" stroke="rgba(255,255,255,0.35)" stroke-width="0.8"/>
<rect x="684.78" y="347.32" width="38.60" height="102.26" fill="#acacac" stroke="rgba(255,255,255,0.35)" stroke-width="0.8"/>
<line x1="31.07" x2="70.27" y1="398.45" y2="398.45" stroke="rgba(0,0,0,0.04)" stroke-width="1.6"/>
<line x1="70.27" x2="109.48" y1="398.45" y2="398.45" stroke="rgba(0,0,0,0.04)" stroke-width="1.6"/>
<line x1="109.48" x2="148.68" y1="398.45" y2="398.45" stroke="rgba(0,0,0,0.04)" stroke-width="1.6"/>
<line x1="462.32" x2="501.52" y1="398.45" y2="398.45" stroke="rgba(0,0,0,0.04)" stroke-width="1.6"/>
<line x1="501.52" x2="540.73" y1="398.45" y2="398.45" stroke="rgba(0,0,0,0.04)" stroke-width="1.6"/>
<line x1="501.52" x2="540.73" y1="347.32" y2="347.32" stroke="rgba(0,0,0,0.04)" stroke-width="1.6"/>
<line x1="501.52" x2="540.73" y1="296.19" y2="296.19" stroke="rgba(0,0,0,0.04)" stroke-width="1.6"/>
<line x1="501.52" x2="540.73" y1="245.06" y2="245.06" stroke="rgba(0,0,0,0.04)" stroke-width="1.6"/>
<line x1="501.52" x2="540.73" y1="193.93" y2="193.93" stroke="rgba(0,0,0,0.04)" stroke-width="1.6"/>
<line x1="501.52" x2="540.73" y1="142.80" y2="142.80" stroke="rgba(0,0,0,0.04)" stroke-width="1.6"/>
<line x1="501.52" x2="540.73" y1="91.67" y2="91.67" stroke="rgba(0,0,0,0.04)" stroke-width="1.6"/>
<line x1="540.73" x2="579.93" y1="398.45" y2="398.45" stroke="rgba(0,0,0,0.04)" stroke-width="1.6"/>
<line x1="540.73" x2="579.93" y1="347.32" y2="347.32" stroke="rgba(0,0,0,0.04)" stroke-width="1.6"/>
<line x1="540.73" x2="579.93" y1="296.19" y2="296.19" stroke="rgba(0,0,0,0.04)" stroke-width="1.6"/>
<line x1="540.73" x2="579.93" y1="245.06" y2="245.06" stroke="rgba(0,0,0,0.04)" stroke-width="1.6"/>
<line x1="606.07" x2="645.27" y1="398.45" y2="398.45" stroke="rgba(0,0,0,0.04)" stroke-width="1.6"/>
<line x1="645.27" x2="684.48" y1="398.45" y2="398.45" stroke="rgba(0,0,0,0.04)" stroke-width="1.6"/>
<line x1="645.27" x2="684.48" y1="347.32" y2="347.32" stroke="rgba(0,0,0,0.04)" stroke-width="1.6"/>
<line x1="684.48" x2="723.68" y1="398.45" y2="398.45" stroke="rgba(0,0,0,0.04)" stroke-width="1.6"/>
<text x="50.67" y="405.62" class="vl">2,15</text>
<text x="89.88" y="383.88" class="vl">3</text>
<text x="129.08" y="401.78" class="vl">2,3</text>
<text x="194.42" y="444.08" class="vl">0</text>
<text x="233.62" y="444.08" class="vl">0</text>
<text x="272.83" y="444.08" class="vl">0</text>
<text x="338.17" y="419.68" class="vl">1,6</text>
<text x="377.38" y="419.68" class="vl">1,6</text>
<text x="416.58" y="427.35" class="vl">1,3</text>
<text x="481.92" y="363.43" class="vl">3,8</text>
<text x="521.12" y="56.65" class="vl">15,8</text>
<text x="560.33" y="248.39" class="vl">8,3</text>
<text x="625.67" y="373.66" class="vl">3,4</text>
<text x="664.88" y="355.76" class="vl">4,1</text>
<text x="704.08" y="358.32" class="vl">4</text>
<line x1="18" x2="736.75" y1="449.28" y2="449.28" stroke="#5a5a5a" stroke-width="2"/>
<text x="89.88" y="461.88" class="cl" textLength="31.3" lengthAdjust="spacingAndGlyphs">PATIENT 1</text>
<text x="233.62" y="461.88" class="cl" textLength="31.3" lengthAdjust="spacingAndGlyphs">PATIENT 2</text>
<text x="377.38" y="461.88" class="cl" textLength="31.3" lengthAdjust="spacingAndGlyphs">PATIENT 3</text>
<text x="521.12" y="461.88" class="cl" textLength="31.3" lengthAdjust="spacingAndGlyphs">PATIENT 4</text>
<text x="664.88" y="461.88" class="cl" textLength="31.3" lengthAdjust="spacingAndGlyphs">PATIENT 5</text>
<rect x="322.4" y="468.3" width="110.4" height="14.4" fill="rgba(255,255,255,0.22)"/>
<rect x="330.4" y="473.5" width="3.4" height="3.4" fill="#5b82c8"/>
<text x="335.7" y="477.90000000000003" class="lg" textLength="21.9" lengthAdjust="spacingAndGlyphs">Series1</text>
<rect x="365" y="473.5" width="3.4" height="3.4" fill="#e98b4b"/>
<text x="371" y="477.90000000000003" class="lg" textLength="21.8" lengthAdjust="spacingAndGlyphs">Series2</text>
<rect x="400.8" y="473.5" width="3.4" height="3.4" fill="#acacac"/>
<text x="406" y="477.90000000000003" class="lg" textLength="22" lengthAdjust="spacingAndGlyphs">Series3</text>
<path d="M76.2 23.9 C74.5 22.5 72.2 21.9 69.6 21.9 C62.8 21.9 58.9 26.8 58.9 34.6 C58.9 42.4 62.8 47.1 69.4 47.1 C72.3 47.1 74.6 46.5 76.5 45.3 L76.3 39.9 C74.8 40.6 73.2 41.0 71.2 41.0 C67.5 41.0 65.2 38.5 65.2 34.5 C65.2 30.4 67.5 27.9 71.1 27.9 C72.9 27.9 74.5 28.4 76.1 29.3 Z" fill="#000"/>
<defs><linearGradient id="gd0" x1="0" x2="1" y1="0" y2="0"><stop offset="0.000" stop-color="rgb(210,210,210)"/><stop offset="0.055" stop-color="rgb(222,222,222)"/><stop offset="0.120" stop-color="rgb(230,230,230)"/><stop offset="0.257" stop-color="rgb(240,240,240)"/><stop offset="0.394" stop-color="rgb(247,247,247)"/><stop offset="0.532" stop-color="rgb(251,251,251)"/><stop offset="0.669" stop-color="rgb(253,253,253)"/><stop offset="0.806" stop-color="rgb(247,247,247)"/><stop offset="0.916" stop-color="rgb(235,235,235)"/><stop offset="1.000" stop-color="rgb(222,222,222)"/></linearGradient>
<linearGradient id="gd1" x1="0" x2="1" y1="0" y2="0"><stop offset="0.000" stop-color="rgb(211,211,211)"/><stop offset="0.055" stop-color="rgb(222,222,222)"/><stop offset="0.120" stop-color="rgb(230,230,230)"/><stop offset="0.257" stop-color="rgb(240,240,240)"/><stop offset="0.394" stop-color="rgb(247,247,247)"/><stop offset="0.532" stop-color="rgb(251,251,251)"/><stop offset="0.669" stop-color="rgb(252,252,252)"/><stop offset="0.806" stop-color="rgb(246,246,246)"/><stop offset="0.916" stop-color="rgb(234,234,234)"/><stop offset="1.000" stop-color="rgb(221,221,221)"/></linearGradient>
<linearGradient id="gd2" x1="0" x2="1" y1="0" y2="0"><stop offset="0.000" stop-color="rgb(211,211,211)"/><stop offset="0.055" stop-color="rgb(222,222,222)"/><stop offset="0.120" stop-color="rgb(230,230,230)"/><stop offset="0.257" stop-color="rgb(240,240,240)"/><stop offset="0.394" stop-color="rgb(247,247,247)"/><stop offset="0.532" stop-color="rgb(251,251,251)"/><stop offset="0.669" stop-color="rgb(251,251,251)"/><stop offset="0.806" stop-color="rgb(245,245,245)"/><stop offset="0.916" stop-color="rgb(233,233,233)"/><stop offset="1.000" stop-color="rgb(220,220,220)"/></linearGradient>
<linearGradient id="gd3" x1="0" x2="1" y1="0" y2="0"><stop offset="0.000" stop-color="rgb(211,211,211)"/><stop offset="0.055" stop-color="rgb(222,222,222)"/><stop offset="0.120" stop-color="rgb(230,230,230)"/><stop offset="0.257" stop-color="rgb(239,239,239)"/><stop offset="0.394" stop-color="rgb(246,246,246)"/><stop offset="0.532" stop-color="rgb(250,250,250)"/><stop offset="0.669" stop-color="rgb(251,251,251)"/><stop offset="0.806" stop-color="rgb(244,244,244)"/><stop offset="0.916" stop-color="rgb(232,232,232)"/><stop offset="1.000" stop-color="rgb(220,220,220)"/></linearGradient>
<linearGradient id="gd4" x1="0" x2="1" y1="0" y2="0"><stop offset="0.000" stop-color="rgb(212,212,212)"/><stop offset="0.055" stop-color="rgb(222,222,222)"/><stop offset="0.120" stop-color="rgb(230,230,230)"/><stop offset="0.257" stop-color="rgb(239,239,239)"/><stop offset="0.394" stop-color="rgb(246,246,246)"/><stop offset="0.532" stop-color="rgb(250,250,250)"/><stop offset="0.669" stop-color="rgb(250,250,250)"/><stop offset="0.806" stop-color="rgb(243,243,243)"/><stop offset="0.916" stop-color="rgb(231,231,231)"/><stop offset="1.000" stop-color="rgb(219,219,219)"/></linearGradient>
<linearGradient id="gd5" x1="0" x2="1" y1="0" y2="0"><stop offset="0.000" stop-color="rgb(212,212,212)"/><stop offset="0.055" stop-color="rgb(222,222,222)"/><stop offset="0.120" stop-color="rgb(230,230,230)"/><stop offset="0.257" stop-color="rgb(239,239,239)"/><stop offset="0.394" stop-color="rgb(246,246,246)"/><stop offset="0.532" stop-color="rgb(250,250,250)"/><stop offset="0.669" stop-color="rgb(249,249,249)"/><stop offset="0.806" stop-color="rgb(241,241,241)"/><stop offset="0.916" stop-color="rgb(230,230,230)"/><stop offset="1.000" stop-color="rgb(218,218,218)"/></linearGradient>
<linearGradient id="gd6" x1="0" x2="1" y1="0" y2="0"><stop offset="0.000" stop-color="rgb(212,212,212)"/><stop offset="0.055" stop-color="rgb(222,222,222)"/><stop offset="0.120" stop-color="rgb(230,230,230)"/><stop offset="0.257" stop-color="rgb(239,239,239)"/><stop offset="0.394" stop-color="rgb(246,246,246)"/><stop offset="0.532" stop-color="rgb(250,250,250)"/><stop offset="0.669" stop-color="rgb(248,248,248)"/><stop offset="0.806" stop-color="rgb(240,240,240)"/><stop offset="0.916" stop-color="rgb(229,229,229)"/><stop offset="1.000" stop-color="rgb(218,218,218)"/></linearGradient>
<linearGradient id="gd7" x1="0" x2="1" y1="0" y2="0"><stop offset="0.000" stop-color="rgb(212,212,212)"/><stop offset="0.055" stop-color="rgb(222,222,222)"/><stop offset="0.120" stop-color="rgb(230,230,230)"/><stop offset="0.257" stop-color="rgb(239,239,239)"/><stop offset="0.394" stop-color="rgb(245,245,245)"/><stop offset="0.532" stop-color="rgb(249,249,249)"/><stop offset="0.669" stop-color="rgb(248,248,248)"/><stop offset="0.806" stop-color="rgb(239,239,239)"/><stop offset="0.916" stop-color="rgb(228,228,228)"/><stop offset="1.000" stop-color="rgb(217,217,217)"/></linearGradient>
<linearGradient id="gd8" x1="0" x2="1" y1="0" y2="0"><stop offset="0.000" stop-color="rgb(212,212,212)"/><stop offset="0.055" stop-color="rgb(222,222,222)"/><stop offset="0.120" stop-color="rgb(229,229,229)"/><stop offset="0.257" stop-color="rgb(238,238,238)"/><stop offset="0.394" stop-color="rgb(245,245,245)"/><stop offset="0.532" stop-color="rgb(248,248,248)"/><stop offset="0.669" stop-color="rgb(247,247,247)"/><stop offset="0.806" stop-color="rgb(239,239,239)"/><stop offset="0.916" stop-color="rgb(228,228,228)"/><stop offset="1.000" stop-color="rgb(216,216,216)"/></linearGradient>
<linearGradient id="gd9" x1="0" x2="1" y1="0" y2="0"><stop offset="0.000" stop-color="rgb(212,212,212)"/><stop offset="0.055" stop-color="rgb(222,222,222)"/><stop offset="0.120" stop-color="rgb(229,229,229)"/><stop offset="0.257" stop-color="rgb(238,238,238)"/><stop offset="0.394" stop-color="rgb(244,244,244)"/><stop offset="0.532" stop-color="rgb(248,248,248)"/><stop offset="0.669" stop-color="rgb(246,246,246)"/><stop offset="0.806" stop-color="rgb(238,238,238)"/><stop offset="0.916" stop-color="rgb(227,227,227)"/><stop offset="1.000" stop-color="rgb(215,215,215)"/></linearGradient>
<linearGradient id="gd10" x1="0" x2="1" y1="0" y2="0"><stop offset="0.000" stop-color="rgb(212,212,212)"/><stop offset="0.055" stop-color="rgb(221,221,221)"/><stop offset="0.120" stop-color="rgb(229,229,229)"/><stop offset="0.257" stop-color="rgb(238,238,238)"/><stop offset="0.394" stop-color="rgb(244,244,244)"/><stop offset="0.532" stop-color="rgb(247,247,247)"/><stop offset="0.669" stop-color="rgb(245,245,245)"/><stop offset="0.806" stop-color="rgb(237,237,237)"/><stop offset="0.916" stop-color="rgb(226,226,226)"/><stop offset="1.000" stop-color="rgb(214,214,214)"/></linearGradient>
<linearGradient id="gd11" x1="0" x2="1" y1="0" y2="0"><stop offset="0.000" stop-color="rgb(212,212,212)"/><stop offset="0.055" stop-color="rgb(221,221,221)"/><stop offset="0.120" stop-color="rgb(228,228,228)"/><stop offset="0.257" stop-color="rgb(238,238,238)"/><stop offset="0.394" stop-color="rgb(243,243,243)"/><stop offset="0.532" stop-color="rgb(246,246,246)"/><stop offset="0.669" stop-color="rgb(244,244,244)"/><stop offset="0.806" stop-color="rgb(236,236,236)"/><stop offset="0.916" stop-color="rgb(225,225,225)"/><stop offset="1.000" stop-color="rgb(214,214,214)"/></linearGradient>
<linearGradient id="gd12" x1="0" x2="1" y1="0" y2="0"><stop offset="0.000" stop-color="rgb(212,212,212)"/><stop offset="0.055" stop-color="rgb(221,221,221)"/><stop offset="0.120" stop-color="rgb(228,228,228)"/><stop offset="0.257" stop-color="rgb(237,237,237)"/><stop offset="0.394" stop-color="rgb(242,242,242)"/><stop offset="0.532" stop-color="rgb(246,246,246)"/><stop offset="0.669" stop-color="rgb(244,244,244)"/><stop offset="0.806" stop-color="rgb(235,235,235)"/><stop offset="0.916" stop-color="rgb(224,224,224)"/><stop offset="1.000" stop-color="rgb(213,213,213)"/></linearGradient>
<linearGradient id="gd13" x1="0" x2="1" y1="0" y2="0"><stop offset="0.000" stop-color="rgb(212,212,212)"/><stop offset="0.055" stop-color="rgb(221,221,221)"/><stop offset="0.120" stop-color="rgb(228,228,228)"/><stop offset="0.257" stop-color="rgb(237,237,237)"/><stop offset="0.394" stop-color="rgb(242,242,242)"/><stop offset="0.532" stop-color="rgb(245,245,245)"/><stop offset="0.669" stop-color="rgb(243,243,243)"/><stop offset="0.806" stop-color="rgb(234,234,234)"/><stop offset="0.916" stop-color="rgb(223,223,223)"/><stop offset="1.000" stop-color="rgb(212,212,212)"/></linearGradient>
<linearGradient id="gd14" x1="0" x2="1" y1="0" y2="0"><stop offset="0.000" stop-color="rgb(212,212,212)"/><stop offset="0.055" stop-color="rgb(221,221,221)"/><stop offset="0.120" stop-color="rgb(228,228,228)"/><stop offset="0.257" stop-color="rgb(237,237,237)"/><stop offset="0.394" stop-color="rgb(241,241,241)"/><stop offset="0.532" stop-color="rgb(244,244,244)"/><stop offset="0.669" stop-color="rgb(242,242,242)"/><stop offset="0.806" stop-color="rgb(234,234,234)"/><stop offset="0.916" stop-color="rgb(223,223,223)"/><stop offset="1.000" stop-color="rgb(212,212,212)"/></linearGradient>
<linearGradient id="gd15" x1="0" x2="1" y1="0" y2="0"><stop offset="0.000" stop-color="rgb(212,212,212)"/><stop offset="0.055" stop-color="rgb(221,221,221)"/><stop offset="0.120" stop-color="rgb(228,228,228)"/><stop offset="0.257" stop-color="rgb(236,236,236)"/><stop offset="0.394" stop-color="rgb(241,241,241)"/><stop offset="0.532" stop-color="rgb(244,244,244)"/><stop offset="0.669" stop-color="rgb(242,242,242)"/><stop offset="0.806" stop-color="rgb(233,233,233)"/><stop offset="0.916" stop-color="rgb(222,222,222)"/><stop offset="1.000" stop-color="rgb(211,211,211)"/></linearGradient>
<linearGradient id="gd16" x1="0" x2="1" y1="0" y2="0"><stop offset="0.000" stop-color="rgb(211,211,211)"/><stop offset="0.055" stop-color="rgb(221,221,221)"/><stop offset="0.120" stop-color="rgb(227,227,227)"/><stop offset="0.257" stop-color="rgb(236,236,236)"/><stop offset="0.394" stop-color="rgb(240,240,240)"/><stop offset="0.532" stop-color="rgb(243,243,243)"/><stop offset="0.669" stop-color="rgb(241,241,241)"/><stop offset="0.806" stop-color="rgb(233,233,233)"/><stop offset="0.916" stop-color="rgb(222,222,222)"/><stop offset="1.000" stop-color="rgb(211,211,211)"/></linearGradient>
<linearGradient id="gd17" x1="0" x2="1" y1="0" y2="0"><stop offset="0.000" stop-color="rgb(211,211,211)"/><stop offset="0.055" stop-color="rgb(221,221,221)"/><stop offset="0.120" stop-color="rgb(227,227,227)"/><stop offset="0.257" stop-color="rgb(236,236,236)"/><stop offset="0.394" stop-color="rgb(240,240,240)"/><stop offset="0.532" stop-color="rgb(243,243,243)"/><stop offset="0.669" stop-color="rgb(241,241,241)"/><stop offset="0.806" stop-color="rgb(232,232,232)"/><stop offset="0.916" stop-color="rgb(222,222,222)"/><stop offset="1.000" stop-color="rgb(210,210,210)"/></linearGradient>
<linearGradient id="gd18" x1="0" x2="1" y1="0" y2="0"><stop offset="0.000" stop-color="rgb(211,211,211)"/><stop offset="0.055" stop-color="rgb(220,220,220)"/><stop offset="0.120" stop-color="rgb(227,227,227)"/><stop offset="0.257" stop-color="rgb(235,235,235)"/><stop offset="0.394" stop-color="rgb(239,239,239)"/><stop offset="0.532" stop-color="rgb(242,242,242)"/><stop offset="0.669" stop-color="rgb(240,240,240)"/><stop offset="0.806" stop-color="rgb(232,232,232)"/><stop offset="0.916" stop-color="rgb(221,221,221)"/><stop offset="1.000" stop-color="rgb(210,210,210)"/></linearGradient>
<linearGradient id="gd19" x1="0" x2="1" y1="0" y2="0"><stop offset="0.000" stop-color="rgb(211,211,211)"/><stop offset="0.055" stop-color="rgb(220,220,220)"/><stop offset="0.120" stop-color="rgb(227,227,227)"/><stop offset="0.257" stop-color="rgb(235,235,235)"/><stop offset="0.394" stop-color="rgb(239,239,239)"/><stop offset="0.532" stop-color="rgb(241,241,241)"/><stop offset="0.669" stop-color="rgb(240,240,240)"/><stop offset="0.806" stop-color="rgb(232,232,232)"/><stop offset="0.916" stop-color="rgb(221,221,221)"/><stop offset="1.000" stop-color="rgb(210,210,210)"/></linearGradient>
<linearGradient id="gd20" x1="0" x2="1" y1="0" y2="0"><stop offset="0.000" stop-color="rgb(211,211,211)"/><stop offset="0.055" stop-color="rgb(220,220,220)"/><stop offset="0.120" stop-color="rgb(227,227,227)"/><stop offset="0.257" stop-color="rgb(235,235,235)"/><stop offset="0.394" stop-color="rgb(238,238,238)"/><stop offset="0.532" stop-color="rgb(241,241,241)"/><stop offset="0.669" stop-color="rgb(239,239,239)"/><stop offset="0.806" stop-color="rgb(231,231,231)"/><stop offset="0.916" stop-color="rgb(221,221,221)"/><stop offset="1.000" stop-color="rgb(209,209,209)"/></linearGradient>
<linearGradient id="gd21" x1="0" x2="1" y1="0" y2="0"><stop offset="0.000" stop-color="rgb(210,210,210)"/><stop offset="0.055" stop-color="rgb(220,220,220)"/><stop offset="0.120" stop-color="rgb(226,226,226)"/><stop offset="0.257" stop-color="rgb(235,235,235)"/><stop offset="0.394" stop-color="rgb(238,238,238)"/><stop offset="0.532" stop-color="rgb(240,240,240)"/><stop offset="0.669" stop-color="rgb(239,239,239)"/><stop offset="0.806" stop-color="rgb(231,231,231)"/><stop offset="0.916" stop-color="rgb(221,221,221)"/><stop offset="1.000" stop-color="rgb(209,209,209)"/></linearGradient>
<linearGradient id="gd22" x1="0" x2="1" y1="0" y2="0"><stop offset="0.000" stop-color="rgb(210,210,210)"/><stop offset="0.055" stop-color="rgb(220,220,220)"/><stop offset="0.120" stop-color="rgb(226,226,226)"/><stop offset="0.257" stop-color="rgb(234,234,234)"/><stop offset="0.394" stop-color="rgb(237,237,237)"/><stop offset="0.532" stop-color="rgb(240,240,240)"/><stop offset="0.669" stop-color="rgb(238,238,238)"/><stop offset="0.806" stop-color="rgb(230,230,230)"/><stop offset="0.916" stop-color="rgb(220,220,220)"/><stop offset="1.000" stop-color="rgb(208,208,208)"/></linearGradient>
<linearGradient id="gd23" x1="0" x2="1" y1="0" y2="0"><stop offset="0.000" stop-color="rgb(210,210,210)"/><stop offset="0.055" stop-color="rgb(220,220,220)"/><stop offset="0.120" stop-color="rgb(226,226,226)"/><stop offset="0.257" stop-color="rgb(234,234,234)"/><stop offset="0.394" stop-color="rgb(237,237,237)"/><stop offset="0.532" stop-color="rgb(239,239,239)"/><stop offset="0.669" stop-color="rgb(238,238,238)"/><stop offset="0.806" stop-color="rgb(230,230,230)"/><stop offset="0.916" stop-color="rgb(220,220,220)"/><stop offset="1.000" stop-color="rgb(208,208,208)"/></linearGradient>
<linearGradient id="gd24" x1="0" x2="1" y1="0" y2="0"><stop offset="0.000" stop-color="rgb(210,210,210)"/><stop offset="0.055" stop-color="rgb(220,220,220)"/><stop offset="0.120" stop-color="rgb(226,226,226)"/><stop offset="0.257" stop-color="rgb(233,233,233)"/><stop offset="0.394" stop-color="rgb(236,236,236)"/><stop offset="0.532" stop-color="rgb(238,238,238)"/><stop offset="0.669" stop-color="rgb(237,237,237)"/><stop offset="0.806" stop-color="rgb(229,229,229)"/><stop offset="0.916" stop-color="rgb(220,220,220)"/><stop offset="1.000" stop-color="rgb(208,208,208)"/></linearGradient>
<linearGradient id="gd25" x1="0" x2="1" y1="0" y2="0"><stop offset="0.000" stop-color="rgb(209,209,209)"/><stop offset="0.055" stop-color="rgb(219,219,219)"/><stop offset="0.120" stop-color="rgb(225,225,225)"/><stop offset="0.257" stop-color="rgb(233,233,233)"/><stop offset="0.394" stop-color="rgb(236,236,236)"/><stop offset="0.532" stop-color="rgb(237,237,237)"/><stop offset="0.669" stop-color="rgb(236,236,236)"/><stop offset="0.806" stop-color="rgb(229,229,229)"/><stop offset="0.916" stop-color="rgb(219,219,219)"/><stop offset="1.000" stop-color="rgb(208,208,208)"/></linearGradient>
<linearGradient id="gd26" x1="0" x2="1" y1="0" y2="0"><stop offset="0.000" stop-color="rgb(209,209,209)"/><stop offset="0.055" stop-color="rgb(219,219,219)"/><stop offset="0.120" stop-color="rgb(225,225,225)"/><stop offset="0.257" stop-color="rgb(232,232,232)"/><stop offset="0.394" stop-color="rgb(235,235,235)"/><stop offset="0.532" stop-color="rgb(237,237,237)"/><stop offset="0.669" stop-color="rgb(236,236,236)"/><stop offset="0.806" stop-color="rgb(228,228,228)"/><stop offset="0.916" stop-color="rgb(219,219,219)"/><stop offset="1.000" stop-color="rgb(208,208,208)"/></linearGradient>
<linearGradient id="gd27" x1="0" x2="1" y1="0" y2="0"><stop offset="0.000" stop-color="rgb(209,209,209)"/><stop offset="0.055" stop-color="rgb(218,218,218)"/><stop offset="0.120" stop-color="rgb(224,224,224)"/><stop offset="0.257" stop-color="rgb(232,232,232)"/><stop offset="0.394" stop-color="rgb(234,234,234)"/><stop offset="0.532" stop-color="rgb(236,236,236)"/><stop offset="0.669" stop-color="rgb(235,235,235)"/><stop offset="0.806" stop-color="rgb(228,228,228)"/><stop offset="0.916" stop-color="rgb(219,219,219)"/><stop offset="1.000" stop-color="rgb(207,207,207)"/></linearGradient>
<linearGradient id="gd28" x1="0" x2="1" y1="0" y2="0"><stop offset="0.000" stop-color="rgb(209,209,209)"/><stop offset="0.055" stop-color="rgb(218,218,218)"/><stop offset="0.120" stop-color="rgb(224,224,224)"/><stop offset="0.257" stop-color="rgb(231,231,231)"/><stop offset="0.394" stop-color="rgb(234,234,234)"/><stop offset="0.532" stop-color="rgb(235,235,235)"/><stop offset="0.669" stop-color="rgb(234,234,234)"/><stop offset="0.806" stop-color="rgb(228,228,228)"/><stop offset="0.916" stop-color="rgb(218,218,218)"/><stop offset="1.000" stop-color="rgb(207,207,207)"/></linearGradient>
<linearGradient id="gd29" x1="0" x2="1" y1="0" y2="0"><stop offset="0.000" stop-color="rgb(209,209,209)"/><stop offset="0.055" stop-color="rgb(218,218,218)"/><stop offset="0.120" stop-color="rgb(224,224,224)"/><stop offset="0.257" stop-color="rgb(231,231,231)"/><stop offset="0.394" stop-color="rgb(233,233,233)"/><stop offset="0.532" stop-color="rgb(235,235,235)"/><stop offset="0.669" stop-color="rgb(234,234,234)"/><stop offset="0.806" stop-color="rgb(227,227,227)"/><stop offset="0.916" stop-color="rgb(218,218,218)"/><stop offset="1.000" stop-color="rgb(207,207,207)"/></linearGradient>
<linearGradient id="gd30" x1="0" x2="1" y1="0" y2="0"><stop offset="0.000" stop-color="rgb(208,208,208)"/><stop offset="0.055" stop-color="rgb(217,217,217)"/><stop offset="0.120" stop-color="rgb(223,223,223)"/><stop offset="0.257" stop-color="rgb(230,230,230)"/><stop offset="0.394" stop-color="rgb(232,232,232)"/><stop offset="0.532" stop-color="rgb(234,234,234)"/><stop offset="0.669" stop-color="rgb(233,233,233)"/><stop offset="0.806" stop-color="rgb(227,227,227)"/><stop offset="0.916" stop-color="rgb(218,218,218)"/><stop offset="1.000" stop-color="rgb(207,207,207)"/></linearGradient>
<linearGradient id="gd31" x1="0" x2="1" y1="0" y2="0"><stop offset="0.000" stop-color="rgb(208,208,208)"/><stop offset="0.055" stop-color="rgb(217,217,217)"/><stop offset="0.120" stop-color="rgb(223,223,223)"/><stop offset="0.257" stop-color="rgb(229,229,229)"/><stop offset="0.394" stop-color="rgb(232,232,232)"/><stop offset="0.532" stop-color="rgb(233,233,233)"/><stop offset="0.669" stop-color="rgb(232,232,232)"/><stop offset="0.806" stop-color="rgb(226,226,226)"/><stop offset="0.916" stop-color="rgb(217,217,217)"/><stop offset="1.000" stop-color="rgb(207,207,207)"/></linearGradient>
<linearGradient id="gd32" x1="0" x2="1" y1="0" y2="0"><stop offset="0.000" stop-color="rgb(208,208,208)"/><stop offset="0.055" stop-color="rgb(216,216,216)"/><stop offset="0.120" stop-color="rgb(222,222,222)"/><stop offset="0.257" stop-color="rgb(229,229,229)"/><stop offset="0.394" stop-color="rgb(231,231,231)"/><stop offset="0.532" stop-color="rgb(232,232,232)"/><stop offset="0.669" stop-color="rgb(231,231,231)"/><stop offset="0.806" stop-color="rgb(226,226,226)"/><stop offset="0.916" stop-color="rgb(217,217,217)"/><stop offset="1.000" stop-color="rgb(207,207,207)"/></linearGradient>
<linearGradient id="gd33" x1="0" x2="1" y1="0" y2="0"><stop offset="0.000" stop-color="rgb(208,208,208)"/><stop offset="0.055" stop-color="rgb(216,216,216)"/><stop offset="0.120" stop-color="rgb(222,222,222)"/><stop offset="0.257" stop-color="rgb(228,228,228)"/><stop offset="0.394" stop-color="rgb(231,231,231)"/><stop offset="0.532" stop-color="rgb(232,232,232)"/><stop offset="0.669" stop-color="rgb(231,231,231)"/><stop offset="0.806" stop-color="rgb(225,225,225)"/><stop offset="0.916" stop-color="rgb(217,217,217)"/><stop offset="1.000" stop-color="rgb(206,206,206)"/></linearGradient>
<linearGradient id="gd34" x1="0" x2="1" y1="0" y2="0"><stop offset="0.000" stop-color="rgb(207,207,207)"/><stop offset="0.055" stop-color="rgb(216,216,216)"/><stop offset="0.120" stop-color="rgb(222,222,222)"/><stop offset="0.257" stop-color="rgb(228,228,228)"/><stop offset="0.394" stop-color="rgb(230,230,230)"/><stop offset="0.532" stop-color="rgb(231,231,231)"/><stop offset="0.669" stop-color="rgb(230,230,230)"/><stop offset="0.806" stop-color="rgb(225,225,225)"/><stop offset="0.916" stop-color="rgb(216,216,216)"/><stop offset="1.000" stop-color="rgb(206,206,206)"/></linearGradient>
<linearGradient id="gd35" x1="0" x2="1" y1="0" y2="0"><stop offset="0.000" stop-color="rgb(207,207,207)"/><stop offset="0.055" stop-color="rgb(215,215,215)"/><stop offset="0.120" stop-color="rgb(221,221,221)"/><stop offset="0.257" stop-color="rgb(227,227,227)"/><stop offset="0.394" stop-color="rgb(229,229,229)"/><stop offset="0.532" stop-color="rgb(230,230,230)"/><stop offset="0.669" stop-color="rgb(229,229,229)"/><stop offset="0.806" stop-color="rgb(224,224,224)"/><stop offset="0.916" stop-color="rgb(216,216,216)"/><stop offset="1.000" stop-color="rgb(206,206,206)"/></linearGradient>
<linearGradient id="gd36" x1="0" x2="1" y1="0" y2="0"><stop offset="0.000" stop-color="rgb(207,207,207)"/><stop offset="0.055" stop-color="rgb(215,215,215)"/><stop offset="0.120" stop-color="rgb(221,221,221)"/><stop offset="0.257" stop-color="rgb(227,227,227)"/><stop offset="0.394" stop-color="rgb(229,229,229)"/><stop offset="0.532" stop-color="rgb(230,230,230)"/><stop offset="0.669" stop-color="rgb(229,229,229)"/><stop offset="0.806" stop-color="rgb(224,224,224)"/><stop offset="0.916" stop-color="rgb(216,216,216)"/><stop offset="1.000" stop-color="rgb(206,206,206)"/></linearGradient>
<linearGradient id="gd37" x1="0" x2="1" y1="0" y2="0"><stop offset="0.000" stop-color="rgb(206,206,206)"/><stop offset="0.055" stop-color="rgb(214,214,214)"/><stop offset="0.120" stop-color="rgb(220,220,220)"/><stop offset="0.257" stop-color="rgb(226,226,226)"/><stop offset="0.394" stop-color="rgb(228,228,228)"/><stop offset="0.532" stop-color="rgb(229,229,229)"/><stop offset="0.669" stop-color="rgb(228,228,228)"/><stop offset="0.806" stop-color="rgb(223,223,223)"/><stop offset="0.916" stop-color="rgb(215,215,215)"/><stop offset="1.000" stop-color="rgb(206,206,206)"/></linearGradient>
<linearGradient id="gd38" x1="0" x2="1" y1="0" y2="0"><stop offset="0.000" stop-color="rgb(206,206,206)"/><stop offset="0.055" stop-color="rgb(214,214,214)"/><stop offset="0.120" stop-color="rgb(220,220,220)"/><stop offset="0.257" stop-color="rgb(226,226,226)"/><stop offset="0.394" stop-color="rgb(227,227,227)"/><stop offset="0.532" stop-color="rgb(228,228,228)"/><stop offset="0.669" stop-color="rgb(227,227,227)"/><stop offset="0.806" stop-color="rgb(222,222,222)"/><stop offset="0.916" stop-color="rgb(215,215,215)"/><stop offset="1.000" stop-color="rgb(206,206,206)"/></linearGradient>
<linearGradient id="gd39" x1="0" x2="1" y1="0" y2="0"><stop offset="0.000" stop-color="rgb(206,206,206)"/><stop offset="0.055" stop-color="rgb(214,214,214)"/><stop offset="0.120" stop-color="rgb(220,220,220)"/><stop offset="0.257" stop-color="rgb(225,225,225)"/><stop offset="0.394" stop-color="rgb(227,227,227)"/><stop offset="0.532" stop-color="rgb(227,227,227)"/><stop offset="0.669" stop-color="rgb(226,226,226)"/><stop offset="0.806" stop-color="rgb(222,222,222)"/><stop offset="0.916" stop-color="rgb(214,214,214)"/><stop offset="1.000" stop-color="rgb(205,205,205)"/></linearGradient>
<linearGradient id="gd40" x1="0" x2="1" y1="0" y2="0"><stop offset="0.000" stop-color="rgb(206,206,206)"/><stop offset="0.055" stop-color="rgb(214,214,214)"/><stop offset="0.120" stop-color="rgb(219,219,219)"/><stop offset="0.257" stop-color="rgb(224,224,224)"/><stop offset="0.394" stop-color="rgb(226,226,226)"/><stop offset="0.532" stop-color="rgb(227,227,227)"/><stop offset="0.669" stop-color="rgb(226,226,226)"/><stop offset="0.806" stop-color="rgb(221,221,221)"/><stop offset="0.916" stop-color="rgb(214,214,214)"/><stop offset="1.000" stop-color="rgb(205,205,205)"/></linearGradient>
<linearGradient id="gd41" x1="0" x2="1" y1="0" y2="0"><stop offset="0.000" stop-color="rgb(205,205,205)"/><stop offset="0.055" stop-color="rgb(213,213,213)"/><stop offset="0.120" stop-color="rgb(219,219,219)"/><stop offset="0.257" stop-color="rgb(224,224,224)"/><stop offset="0.394" stop-color="rgb(225,225,225)"/><stop offset="0.532" stop-color="rgb(226,226,226)"/><stop offset="0.669" stop-color="rgb(225,225,225)"/><stop offset="0.806" stop-color="rgb(220,220,220)"/><stop offset="0.916" stop-color="rgb(213,213,213)"/><stop offset="1.000" stop-color="rgb(205,205,205)"/></linearGradient>
<linearGradient id="gd42" x1="0" x2="1" y1="0" y2="0"><stop offset="0.000" stop-color="rgb(205,205,205)"/><stop offset="0.055" stop-color="rgb(213,213,213)"/><stop offset="0.120" stop-color="rgb(218,218,218)"/><stop offset="0.257" stop-color="rgb(223,223,223)"/><stop offset="0.394" stop-color="rgb(225,225,225)"/><stop offset="0.532" stop-color="rgb(225,225,225)"/><stop offset="0.669" stop-color="rgb(224,224,224)"/><stop offset="0.806" stop-color="rgb(220,220,220)"/><stop offset="0.916" stop-color="rgb(213,213,213)"/><stop offset="1.000" stop-color="rgb(205,205,205)"/></linearGradient>
<linearGradient id="gd43" x1="0" x2="1" y1="0" y2="0"><stop offset="0.000" stop-color="rgb(205,205,205)"/><stop offset="0.055" stop-color="rgb(213,213,213)"/><stop offset="0.120" stop-color="rgb(218,218,218)"/><stop offset="0.257" stop-color="rgb(223,223,223)"/><stop offset="0.394" stop-color="rgb(224,224,224)"/><stop offset="0.532" stop-color="rgb(225,225,225)"/><stop offset="0.669" stop-color="rgb(224,224,224)"/><stop offset="0.806" stop-color="rgb(219,219,219)"/><stop offset="0.916" stop-color="rgb(212,212,212)"/><stop offset="1.000" stop-color="rgb(205,205,205)"/></linearGradient>
<linearGradient id="gd44" x1="0" x2="1" y1="0" y2="0"><stop offset="0.000" stop-color="rgb(204,204,204)"/><stop offset="0.055" stop-color="rgb(212,212,212)"/><stop offset="0.120" stop-color="rgb(218,218,218)"/><stop offset="0.257" stop-color="rgb(222,222,222)"/><stop offset="0.394" stop-color="rgb(223,223,223)"/><stop offset="0.532" stop-color="rgb(224,224,224)"/><stop offset="0.669" stop-color="rgb(223,223,223)"/><stop offset="0.806" stop-color="rgb(218,218,218)"/><stop offset="0.916" stop-color="rgb(212,212,212)"/><stop offset="1.000" stop-color="rgb(205,205,205)"/></linearGradient>
<linearGradient id="gd45" x1="0" x2="1" y1="0" y2="0"><stop offset="0.000" stop-color="rgb(204,204,204)"/><stop offset="0.055" stop-color="rgb(212,212,212)"/><stop offset="0.120" stop-color="rgb(217,217,217)"/><stop offset="0.257" stop-color="rgb(222,222,222)"/><stop offset="0.394" stop-color="rgb(223,223,223)"/><stop offset="0.532" stop-color="rgb(223,223,223)"/><stop offset="0.669" stop-color="rgb(222,222,222)"/><stop offset="0.806" stop-color="rgb(218,218,218)"/><stop offset="0.916" stop-color="rgb(211,211,211)"/><stop offset="1.000" stop-color="rgb(204,204,204)"/></linearGradient>
<linearGradient id="gd46" x1="0" x2="1" y1="0" y2="0"><stop offset="0.000" stop-color="rgb(204,204,204)"/><stop offset="0.055" stop-color="rgb(212,212,212)"/><stop offset="0.120" stop-color="rgb(217,217,217)"/><stop offset="0.257" stop-color="rgb(221,221,221)"/><stop offset="0.394" stop-color="rgb(222,222,222)"/><stop offset="0.532" stop-color="rgb(222,222,222)"/><stop offset="0.669" stop-color="rgb(221,221,221)"/><stop offset="0.806" stop-color="rgb(217,217,217)"/><stop offset="0.916" stop-color="rgb(211,211,211)"/><stop offset="1.000" stop-color="rgb(204,204,204)"/></linearGradient>
<linearGradient id="gd47" x1="0" x2="1" y1="0" y2="0"><stop offset="0.000" stop-color="rgb(203,203,203)"/><stop offset="0.055" stop-color="rgb(211,211,211)"/><stop offset="0.120" stop-color="rgb(216,216,216)"/><stop offset="0.257" stop-color="rgb(220,220,220)"/><stop offset="0.394" stop-color="rgb(222,222,222)"/><stop offset="0.532" stop-color="rgb(222,222,222)"/><stop offset="0.669" stop-color="rgb(221,221,221)"/><stop offset="0.806" stop-color="rgb(217,217,217)"/><stop offset="0.916" stop-color="rgb(210,210,210)"/><stop offset="1.000" stop-color="rgb(204,204,204)"/></linearGradient>
<linearGradient id="gd48" x1="0" x2="1" y1="0" y2="0"><stop offset="0.000" stop-color="rgb(203,203,203)"/><stop offset="0.055" stop-color="rgb(211,211,211)"/><stop offset="0.120" stop-color="rgb(216,216,216)"/><stop offset="0.257" stop-color="rgb(220,220,220)"/><stop offset="0.394" stop-color="rgb(221,221,221)"/><stop offset="0.532" stop-color="rgb(221,221,221)"/><stop offset="0.669" stop-color="rgb(220,220,220)"/><stop offset="0.806" stop-color="rgb(216,216,216)"/><stop offset="0.916" stop-color="rgb(210,210,210)"/><stop offset="1.000" stop-color="rgb(204,204,204)"/></linearGradient>
<linearGradient id="gd49" x1="0" x2="1" y1="0" y2="0"><stop offset="0.000" stop-color="rgb(202,202,202)"/><stop offset="0.055" stop-color="rgb(210,210,210)"/><stop offset="0.120" stop-color="rgb(215,215,215)"/><stop offset="0.257" stop-color="rgb(219,219,219)"/><stop offset="0.394" stop-color="rgb(220,220,220)"/><stop offset="0.532" stop-color="rgb(220,220,220)"/><stop offset="0.669" stop-color="rgb(219,219,219)"/><stop offset="0.806" stop-color="rgb(215,215,215)"/><stop offset="0.916" stop-color="rgb(209,209,209)"/><stop offset="1.000" stop-color="rgb(203,203,203)"/></linearGradient>
<linearGradient id="gd50" x1="0" x2="1" y1="0" y2="0"><stop offset="0.000" stop-color="rgb(202,202,202)"/><stop offset="0.055" stop-color="rgb(209,209,209)"/><stop offset="0.120" stop-color="rgb(214,214,214)"/><stop offset="0.257" stop-color="rgb(218,218,218)"/><stop offset="0.394" stop-color="rgb(218,218,218)"/><stop offset="0.532" stop-color="rgb(218,218,218)"/><stop offset="0.669" stop-color="rgb(217,217,217)"/><stop offset="0.806" stop-color="rgb(214,214,214)"/><stop offset="0.916" stop-color="rgb(208,208,208)"/><stop offset="1.000" stop-color="rgb(202,202,202)"/></linearGradient>
<linearGradient id="gd51" x1="0" x2="1" y1="0" y2="0"><stop offset="0.000" stop-color="rgb(202,202,202)"/><stop offset="0.055" stop-color="rgb(209,209,209)"/><stop offset="0.120" stop-color="rgb(213,213,213)"/><stop offset="0.257" stop-color="rgb(217,217,217)"/><stop offset="0.394" stop-color="rgb(217,217,217)"/><stop offset="0.532" stop-color="rgb(217,217,217)"/><stop offset="0.669" stop-color="rgb(216,216,216)"/><stop offset="0.806" stop-color="rgb(213,213,213)"/><stop offset="0.916" stop-color="rgb(207,207,207)"/><stop offset="1.000" stop-color="rgb(202,202,202)"/></linearGradient>
<linearGradient id="gd52" x1="0" x2="1" y1="0" y2="0"><stop offset="0.000" stop-color="rgb(201,201,201)"/><stop offset="0.055" stop-color="rgb(208,208,208)"/><stop offset="0.120" stop-color="rgb(212,212,212)"/><stop offset="0.257" stop-color="rgb(215,215,215)"/><stop offset="0.394" stop-color="rgb(216,216,216)"/><stop offset="0.532" stop-color="rgb(216,216,216)"/><stop offset="0.669" stop-color="rgb(215,215,215)"/><stop offset="0.806" stop-color="rgb(211,211,211)"/><stop offset="0.916" stop-color="rgb(206,206,206)"/><stop offset="1.000" stop-color="rgb(201,201,201)"/></linearGradient>
<linearGradient id="gd53" x1="0" x2="1" y1="0" y2="0"><stop offset="0.000" stop-color="rgb(201,201,201)"/><stop offset="0.055" stop-color="rgb(207,207,207)"/><stop offset="0.120" stop-color="rgb(211,211,211)"/><stop offset="0.257" stop-color="rgb(214,214,214)"/><stop offset="0.394" stop-color="rgb(215,215,215)"/><stop offset="0.532" stop-color="rgb(215,215,215)"/><stop offset="0.669" stop-color="rgb(214,214,214)"/><stop offset="0.806" stop-color="rgb(210,210,210)"/><stop offset="0.916" stop-color="rgb(205,205,205)"/><stop offset="1.000" stop-color="rgb(200,200,200)"/></linearGradient>
<linearGradient id="gd54" x1="0" x2="1" y1="0" y2="0"><stop offset="0.000" stop-color="rgb(200,200,200)"/><stop offset="0.055" stop-color="rgb(206,206,206)"/><stop offset="0.120" stop-color="rgb(210,210,210)"/><stop offset="0.257" stop-color="rgb(213,213,213)"/><stop offset="0.394" stop-color="rgb(214,214,214)"/><stop offset="0.532" stop-color="rgb(214,214,214)"/><stop offset="0.669" stop-color="rgb(213,213,213)"/><stop offset="0.806" stop-color="rgb(209,209,209)"/><stop offset="0.916" stop-color="rgb(204,204,204)"/><stop offset="1.000" stop-color="rgb(199,199,199)"/></linearGradient>
<linearGradient id="gd55" x1="0" x2="1" y1="0" y2="0"><stop offset="0.000" stop-color="rgb(200,200,200)"/><stop offset="0.055" stop-color="rgb(206,206,206)"/><stop offset="0.120" stop-color="rgb(209,209,209)"/><stop offset="0.257" stop-color="rgb(212,212,212)"/><stop offset="0.394" stop-color="rgb(212,212,212)"/><stop offset="0.532" stop-color="rgb(212,212,212)"/><stop offset="0.669" stop-color="rgb(211,211,211)"/><stop offset="0.806" stop-color="rgb(208,208,208)"/><stop offset="0.916" stop-color="rgb(203,203,203)"/><stop offset="1.000" stop-color="rgb(199,199,199)"/></linearGradient>
<linearGradient id="gd56" x1="0" x2="1" y1="0" y2="0"><stop offset="0.000" stop-color="rgb(199,199,199)"/><stop offset="0.055" stop-color="rgb(205,205,205)"/><stop offset="0.120" stop-color="rgb(209,209,209)"/><stop offset="0.257" stop-color="rgb(211,211,211)"/><stop offset="0.394" stop-color="rgb(211,211,211)"/><stop offset="0.532" stop-color="rgb(211,211,211)"/><stop offset="0.669" stop-color="rgb(210,210,210)"/><stop offset="0.806" stop-color="rgb(207,207,207)"/><stop offset="0.916" stop-color="rgb(203,203,203)"/><stop offset="1.000" stop-color="rgb(198,198,198)"/></linearGradient>
<linearGradient id="gd57" x1="0" x2="1" y1="0" y2="0"><stop offset="0.000" stop-color="rgb(199,199,199)"/><stop offset="0.055" stop-color="rgb(204,204,204)"/><stop offset="0.120" stop-color="rgb(208,208,208)"/><stop offset="0.257" stop-color="rgb(210,210,210)"/><stop offset="0.394" stop-color="rgb(210,210,210)"/><stop offset="0.532" stop-color="rgb(210,210,210)"/><stop offset="0.669" stop-color="rgb(209,209,209)"/><stop offset="0.806" stop-color="rgb(206,206,206)"/><stop offset="0.916" stop-color="rgb(202,202,202)"/><stop offset="1.000" stop-color="rgb(197,197,197)"/></linearGradient>
<linearGradient id="gd58" x1="0" x2="1" y1="0" y2="0"><stop offset="0.000" stop-color="rgb(198,198,198)"/><stop offset="0.055" stop-color="rgb(204,204,204)"/><stop offset="0.120" stop-color="rgb(207,207,207)"/><stop offset="0.257" stop-color="rgb(209,209,209)"/><stop offset="0.394" stop-color="rgb(209,209,209)"/><stop offset="0.532" stop-color="rgb(209,209,209)"/><stop offset="0.669" stop-color="rgb(208,208,208)"/><stop offset="0.806" stop-color="rgb(205,205,205)"/><stop offset="0.916" stop-color="rgb(201,201,201)"/><stop offset="1.000" stop-color="rgb(197,197,197)"/></linearGradient>
<linearGradient id="gd59" x1="0" x2="1" y1="0" y2="0"><stop offset="0.000" stop-color="rgb(198,198,198)"/><stop offset="0.055" stop-color="rgb(203,203,203)"/><stop offset="0.120" stop-color="rgb(206,206,206)"/><stop offset="0.257" stop-color="rgb(208,208,208)"/><stop offset="0.394" stop-color="rgb(208,208,208)"/><stop offset="0.532" stop-color="rgb(208,208,208)"/><stop offset="0.669" stop-color="rgb(207,207,207)"/><stop offset="0.806" stop-color="rgb(204,204,204)"/><stop offset="0.916" stop-color="rgb(200,200,200)"/><stop offset="1.000" stop-color="rgb(196,196,196)"/></linearGradient></defs>
<rect x="759" y="13" width="729" height="8.5" fill="url(#gd0)"/>
<rect x="759" y="21" width="729" height="8.5" fill="url(#gd1)"/>
<rect x="759" y="29" width="729" height="8.5" fill="url(#gd2)"/>
<rect x="759" y="37" width="729" height="8.5" fill="url(#gd3)"/>
<rect x="759" y="45" width="729" height="8.5" fill="url(#gd4)"/>
<rect x="759" y="53" width="729" height="8.5" fill="url(#gd5)"/>
<rect x="759" y="61" width="729" height="8.5" fill="url(#gd6)"/>
<rect x="759" y="69" width="729" height="8.5" fill="url(#gd7)"/>
<rect x="759" y="77" width="729" height="8.5" fill="url(#gd8)"/>
<rect x="759" y="85" width="729" height="8.5" fill="url(#gd9)"/>
<rect x="759" y="93" width="729" height="8.5" fill="url(#gd10)"/>
<rect x="759" y="101" width="729" height="8.5" fill="url(#gd11)"/>
<rect x="759" y="109" width="729" height="8.5" fill="url(#gd12)"/>
<rect x="759" y="117" width="729" height="8.5" fill="url(#gd13)"/>
<rect x="759" y="125" width="729" height="8.5" fill="url(#gd14)"/>
<rect x="759" y="133" width="729" height="8.5" fill="url(#gd15)"/>
<rect x="759" y="141" width="729" height="8.5" fill="url(#gd16)"/>
<rect x="759" y="149" width="729" height="8.5" fill="url(#gd17)"/>
<rect x="759" y="157" width="729" height="8.5" fill="url(#gd18)"/>
<rect x="759" y="165" width="729" height="8.5" fill="url(#gd19)"/>
<rect x="759" y="173" width="729" height="8.5" fill="url(#gd20)"/>
<rect x="759" y="181" width="729" height="8.5" fill="url(#gd21)"/>
<rect x="759" y="189" width="729" height="8.5" fill="url(#gd22)"/>
<rect x="759" y="197" width="729" height="8.5" fill="url(#gd23)"/>
<rect x="759" y="205" width="729" height="8.5" fill="url(#gd24)"/>
<rect x="759" y="213" width="729" height="8.5" fill="url(#gd25)"/>
<rect x="759" y="221" width="729" height="8.5" fill="url(#gd26)"/>
<rect x="759" y="229" width="729" height="8.5" fill="url(#gd27)"/>
<rect x="759" y="237" width="729" height="8.5" fill="url(#gd28)"/>
<rect x="759" y="245" width="729" height="8.5" fill="url(#gd29)"/>
<rect x="759" y="253" width="729" height="8.5" fill="url(#gd30)"/>
<rect x="759" y="261" width="729" height="8.5" fill="url(#gd31)"/>
<rect x="759" y="269" width="729" height="8.5" fill="url(#gd32)"/>
<rect x="759" y="277" width="729" height="8.5" fill="url(#gd33)"/>
<rect x="759" y="285" width="729" height="8.5" fill="url(#gd34)"/>
<rect x="759" y="293" width="729" height="8.5" fill="url(#gd35)"/>
<rect x="759" y="301" width="729" height="8.5" fill="url(#gd36)"/>
<rect x="759" y="309" width="729" height="8.5" fill="url(#gd37)"/>
<rect x="759" y="317" width="729" height="8.5" fill="url(#gd38)"/>
<rect x="759" y="325" width="729" height="8.5" fill="url(#gd39)"/>
<rect x="759" y="333" width="729" height="8.5" fill="url(#gd40)"/>
<rect x="759" y="341" width="729" height="8.5" fill="url(#gd41)"/>
<rect x="759" y="349" width="729" height="8.5" fill="url(#gd42)"/>
<rect x="759" y="357" width="729" height="8.5" fill="url(#gd43)"/>
<rect x="759" y="365" width="729" height="8.5" fill="url(#gd44)"/>
<rect x="759" y="373" width="729" height="8.5" fill="url(#gd45)"/>
<rect x="759" y="381" width="729" height="8.5" fill="url(#gd46)"/>
<rect x="759" y="389" width="729" height="8.5" fill="url(#gd47)"/>
<rect x="759" y="397" width="729" height="8.5" fill="url(#gd48)"/>
<rect x="759" y="405" width="729" height="8.5" fill="url(#gd49)"/>
<rect x="759" y="413" width="729" height="8.5" fill="url(#gd50)"/>
<rect x="759" y="421" width="729" height="8.5" fill="url(#gd51)"/>
<rect x="759" y="429" width="729" height="8.5" fill="url(#gd52)"/>
<rect x="759" y="437" width="729" height="8.5" fill="url(#gd53)"/>
<rect x="759" y="445" width="729" height="8.5" fill="url(#gd54)"/>
<rect x="759" y="453" width="729" height="8.5" fill="url(#gd55)"/>
<rect x="759" y="461" width="729" height="8.5" fill="url(#gd56)"/>
<rect x="759" y="469" width="729" height="8.5" fill="url(#gd57)"/>
<rect x="759" y="477" width="729" height="8.5" fill="url(#gd58)"/>
<rect x="759" y="485" width="729" height="1.5" fill="url(#gd59)"/>
<rect x="759" y="13" width="1.2" height="473.5" fill="rgba(0,0,0,0.06)"/>
<rect x="1486.8" y="13" width="1.2" height="473.5" fill="rgba(0,0,0,0.06)"/>
<line x1="762.6" x2="1486.60" y1="405.51" y2="405.51" stroke="rgba(0,0,0,0.250)" stroke-width="1.6"/>
<line x1="762.6" x2="1486.60" y1="359.63" y2="359.63" stroke="rgba(0,0,0,0.227)" stroke-width="1.6"/>
<line x1="762.6" x2="1486.60" y1="313.75" y2="313.75" stroke="rgba(0,0,0,0.174)" stroke-width="1.6"/>
<line x1="762.6" x2="1486.60" y1="267.87" y2="267.87" stroke="rgba(0,0,0,0.133)" stroke-width="1.6"/>
<line x1="762.6" x2="1486.60" y1="221.99" y2="221.99" stroke="rgba(0,0,0,0.106)" stroke-width="1.6"/>
<line x1="762.6" x2="1486.60" y1="176.11" y2="176.11" stroke="rgba(0,0,0,0.081)" stroke-width="1.6"/>
<line x1="762.6" x2="1486.60" y1="130.23" y2="130.23" stroke="rgba(0,0,0,0.062)" stroke-width="1.6"/>
<line x1="762.6" x2="1486.60" y1="84.35" y2="84.35" stroke="rgba(0,0,0,0.049)" stroke-width="1.6"/>
<line x1="762.6" x2="1486.60" y1="38.47" y2="38.47" stroke="rgba(0,0,0,0.045)" stroke-width="1.6"/>
<rect x="776.07" y="372.25" width="38.89" height="79.14" fill="#5b82c8" stroke="rgba(255,255,255,0.35)" stroke-width="0.8"/>
<rect x="815.56" y="368.81" width="38.89" height="82.58" fill="#e98b4b" stroke="rgba(255,255,255,0.35)" stroke-width="0.8"/>
<rect x="855.04" y="371.10" width="38.89" height="80.29" fill="#acacac" stroke="rgba(255,255,255,0.35)" stroke-width="0.8"/>
<rect x="920.87" y="373.39" width="38.89" height="78.00" fill="#5b82c8" stroke="rgba(255,255,255,0.35)" stroke-width="0.8"/>
<rect x="960.36" y="254.11" width="38.89" height="197.28" fill="#e98b4b" stroke="rgba(255,255,255,0.35)" stroke-width="0.8"/>
<rect x="999.84" y="134.82" width="38.89" height="316.57" fill="#acacac" stroke="rgba(255,255,255,0.35)" stroke-width="0.8"/>
<rect x="1065.67" y="260.99" width="38.89" height="190.40" fill="#5b82c8" stroke="rgba(255,255,255,0.35)" stroke-width="0.8"/>
<rect x="1105.16" y="403.22" width="38.89" height="48.17" fill="#e98b4b" stroke="rgba(255,255,255,0.35)" stroke-width="0.8"/>
<rect x="1144.64" y="256.40" width="38.89" height="194.99" fill="#acacac" stroke="rgba(255,255,255,0.35)" stroke-width="0.8"/>
<rect x="1210.47" y="187.58" width="38.89" height="263.81" fill="#5b82c8" stroke="rgba(255,255,255,0.35)" stroke-width="0.8"/>
<rect x="1249.96" y="31.59" width="38.89" height="419.80" fill="#e98b4b" stroke="rgba(255,255,255,0.35)" stroke-width="0.8"/>
<rect x="1289.44" y="153.17" width="38.89" height="298.22" fill="#acacac" stroke="rgba(255,255,255,0.35)" stroke-width="0.8"/>
<rect x="1355.27" y="260.99" width="38.89" height="190.40" fill="#5b82c8" stroke="rgba(255,255,255,0.35)" stroke-width="0.8"/>
<rect x="1394.76" y="226.58" width="38.89" height="224.81" fill="#e98b4b" stroke="rgba(255,255,255,0.35)" stroke-width="0.8"/>
<rect x="1434.24" y="242.64" width="38.89" height="208.75" fill="#acacac" stroke="rgba(255,255,255,0.35)" stroke-width="0.8"/>
<line x1="775.77" x2="815.26" y1="405.51" y2="405.51" stroke="rgba(0,0,0,0.04)" stroke-width="1.6"/>
<line x1="815.26" x2="854.74" y1="405.51" y2="405.51" stroke="rgba(0,0,0,0.04)" stroke-width="1.6"/>
<line x1="854.74" x2="894.23" y1="405.51" y2="405.51" stroke="rgba(0,0,0,0.04)" stroke-width="1.6"/>
<line x1="920.57" x2="960.06" y1="405.51" y2="405.51" stroke="rgba(0,0,0,0.04)" stroke-width="1.6"/>
<line x1="960.06" x2="999.54" y1="405.51" y2="405.51" stroke="rgba(0,0,0,0.04)" stroke-width="1.6"/>
<line x1="960.06" x2="999.54" y1="359.63" y2="359.63" stroke="rgba(0,0,0,0.04)" stroke-width="1.6"/>
<line x1="960.06" x2="999.54" y1="313.75" y2="313.75" stroke="rgba(0,0,0,0.04)" stroke-width="1.6"/>
<line x1="960.06" x2="999.54" y1="267.87" y2="267.87" stroke="rgba(0,0,0,0.04)" stroke-width="1.6"/>
<line x1="999.54" x2="1039.03" y1="405.51" y2="405.51" stroke="rgba(0,0,0,0.04)" stroke-width="1.6"/>
<line x1="999.54" x2="1039.03" y1="359.63" y2="359.63" stroke="rgba(0,0,0,0.04)" stroke-width="1.6"/>
<line x1="999.54" x2="1039.03" y1="313.75" y2="313.75" stroke="rgba(0,0,0,0.04)" stroke-width="1.6"/>
<line x1="999.54" x2="1039.03" y1="267.87" y2="267.87" stroke="rgba(0,0,0,0.04)" stroke-width="1.6"/>
<line x1="999.54" x2="1039.03" y1="221.99" y2="221.99" stroke="rgba(0,0,0,0.04)" stroke-width="1.6"/>
<line x1="999.54" x2="1039.03" y1="176.11" y2="176.11" stroke="rgba(0,0,0,0.04)" stroke-width="1.6"/>
<line x1="1065.37" x2="1104.86" y1="405.51" y2="405.51" stroke="rgba(0,0,0,0.04)" stroke-width="1.6"/>
<line x1="1065.37" x2="1104.86" y1="359.63" y2="359.63" stroke="rgba(0,0,0,0.04)" stroke-width="1.6"/>
<line x1="1065.37" x2="1104.86" y1="313.75" y2="313.75" stroke="rgba(0,0,0,0.04)" stroke-width="1.6"/>
<line x1="1065.37" x2="1104.86" y1="267.87" y2="267.87" stroke="rgba(0,0,0,0.04)" stroke-width="1.6"/>
<line x1="1104.86" x2="1144.34" y1="405.51" y2="405.51" stroke="rgba(0,0,0,0.04)" stroke-width="1.6"/>
<line x1="1144.34" x2="1183.83" y1="405.51" y2="405.51" stroke="rgba(0,0,0,0.04)" stroke-width="1.6"/>
<line x1="1144.34" x2="1183.83" y1="359.63" y2="359.63" stroke="rgba(0,0,0,0.04)" stroke-width="1.6"/>
<line x1="1144.34" x2="1183.83" y1="313.75" y2="313.75" stroke="rgba(0,0,0,0.04)" stroke-width="1.6"/>
<line x1="1144.34" x2="1183.83" y1="267.87" y2="267.87" stroke="rgba(0,0,0,0.04)" stroke-width="1.6"/>
<line x1="1210.17" x2="1249.66" y1="405.51" y2="405.51" stroke="rgba(0,0,0,0.04)" stroke-width="1.6"/>
<line x1="1210.17" x2="1249.66" y1="359.63" y2="359.63" stroke="rgba(0,0,0,0.04)" stroke-width="1.6"/>
<line x1="1210.17" x2="1249.66" y1="313.75" y2="313.75" stroke="rgba(0,0,0,0.04)" stroke-width="1.6"/>
<line x1="1210.17" x2="1249.66" y1="267.87" y2="267.87" stroke="rgba(0,0,0,0.04)" stroke-width="1.6"/>
<line x1="1210.17" x2="1249.66" y1="221.99" y2="221.99" stroke="rgba(0,0,0,0.04)" stroke-width="1.6"/>
<line x1="1249.66" x2="1289.14" y1="405.51" y2="405.51" stroke="rgba(0,0,0,0.04)" stroke-width="1.6"/>
<line x1="1249.66" x2="1289.14" y1="359.63" y2="359.63" stroke="rgba(0,0,0,0.04)" stroke-width="1.6"/>
<line x1="1249.66" x2="1289.14" y1="313.75" y2="313.75" stroke="rgba(0,0,0,0.04)" stroke-width="1.6"/>
<line x1="1249.66" x2="1289.14" y1="267.87" y2="267.87" stroke="rgba(0,0,0,0.04)" stroke-width="1.6"/>
<line x1="1249.66" x2="1289.14" y1="221.99" y2="221.99" stroke="rgba(0,0,0,0.04)" stroke-width="1.6"/>
<line x1="1249.66" x2="1289.14" y1="176.11" y2="176.11" stroke="rgba(0,0,0,0.04)" stroke-width="1.6"/>
<line x1="1249.66" x2="1289.14" y1="130.23" y2="130.23" stroke="rgba(0,0,0,0.04)" stroke-width="1.6"/>
<line x1="1249.66" x2="1289.14" y1="84.35" y2="84.35" stroke="rgba(0,0,0,0.04)" stroke-width="1.6"/>
<line x1="1249.66" x2="1289.14" y1="38.47" y2="38.47" stroke="rgba(0,0,0,0.04)" stroke-width="1.6"/>
<line x1="1289.14" x2="1328.63" y1="405.51" y2="405.51" stroke="rgba(0,0,0,0.04)" stroke-width="1.6"/>
<line x1="1289.14" x2="1328.63" y1="359.63" y2="359.63" stroke="rgba(0,0,0,0.04)" stroke-width="1.6"/>
<line x1="1289.14" x2="1328.63" y1="313.75" y2="313.75" stroke="rgba(0,0,0,0.04)" stroke-width="1.6"/>
<line x1="1289.14" x2="1328.63" y1="267.87" y2="267.87" stroke="rgba(0,0,0,0.04)" stroke-width="1.6"/>
<line x1="1289.14" x2="1328.63" y1="221.99" y2="221.99" stroke="rgba(0,0,0,0.04)" stroke-width="1.6"/>
<line x1="1289.14" x2="1328.63" y1="176.11" y2="176.11" stroke="rgba(0,0,0,0.04)" stroke-width="1.6"/>
<line x1="1354.97" x2="1394.46" y1="405.51" y2="405.51" stroke="rgba(0,0,0,0.04)" stroke-width="1.6"/>
<line x1="1354.97" x2="1394.46" y1="359.63" y2="359.63" stroke="rgba(0,0,0,0.04)" stroke-width="1.6"/>
<line x1="1354.97" x2="1394.46" y1="313.75" y2="313.75" stroke="rgba(0,0,0,0.04)" stroke-width="1.6"/>
<line x1="1354.97" x2="1394.46" y1="267.87" y2="267.87" stroke="rgba(0,0,0,0.04)" stroke-width="1.6"/>
<line x1="1394.46" x2="1433.94" y1="405.51" y2="405.51" stroke="rgba(0,0,0,0.04)" stroke-width="1.6"/>
<line x1="1394.46" x2="1433.94" y1="359.63" y2="359.63" stroke="rgba(0,0,0,0.04)" stroke-width="1.6"/>
<line x1="1394.46" x2="1433.94" y1="313.75" y2="313.75" stroke="rgba(0,0,0,0.04)" stroke-width="1.6"/>
<line x1="1394.46" x2="1433.94" y1="267.87" y2="267.87" stroke="rgba(0,0,0,0.04)" stroke-width="1.6"/>
<line x1="1433.94" x2="1473.43" y1="405.51" y2="405.51" stroke="rgba(0,0,0,0.04)" stroke-width="1.6"/>
<line x1="1433.94" x2="1473.43" y1="359.63" y2="359.63" stroke="rgba(0,0,0,0.04)" stroke-width="1.6"/>
<line x1="1433.94" x2="1473.43" y1="313.75" y2="313.75" stroke="rgba(0,0,0,0.04)" stroke-width="1.6"/>
<line x1="1433.94" x2="1473.43" y1="267.87" y2="267.87" stroke="rgba(0,0,0,0.04)" stroke-width="1.6"/>
<text x="795.51" y="383.25" class="vl">3,45</text>
<text x="835.00" y="379.81" class="vl">3,6</text>
<text x="874.49" y="382.10" class="vl">3,5</text>
<text x="940.31" y="384.39" class="vl">3,4</text>
<text x="979.80" y="265.11" class="vl">8,6</text>
<text x="1019.29" y="145.82" class="vl">13,8</text>
<text x="1085.11" y="271.99" class="vl">8,3</text>
<text x="1124.60" y="414.22" class="vl">2,1</text>
<text x="1164.09" y="267.40" class="vl">8,5</text>
<text x="1229.91" y="198.58" class="vl">11,5</text>
<text x="1269.40" y="42.59" class="vl">18,3</text>
<text x="1308.89" y="164.17" class="vl">13</text>
<text x="1374.71" y="271.99" class="vl">8,3</text>
<text x="1414.20" y="237.58" class="vl">9,8</text>
<text x="1453.69" y="253.64" class="vl">9,1</text>
<line x1="762.6" x2="1486.60" y1="451.09" y2="451.09" stroke="#5a5a5a" stroke-width="2"/>
<text x="835.00" y="463.69" class="cl" textLength="31" lengthAdjust="spacingAndGlyphs">PATIENT 1</text>
<text x="979.80" y="463.69" class="cl" textLength="31" lengthAdjust="spacingAndGlyphs">PATIENT 2</text>
<text x="1124.60" y="463.69" class="cl" textLength="31" lengthAdjust="spacingAndGlyphs">PATIENT 3</text>
<text x="1269.40" y="463.69" class="cl" textLength="31" lengthAdjust="spacingAndGlyphs">PATIENT 4</text>
<text x="1414.20" y="463.69" class="cl" textLength="31" lengthAdjust="spacingAndGlyphs">PATIENT 5</text>
<rect x="1044" y="469" width="162" height="13.5" fill="rgba(255,255,255,0.22)"/>
<rect x="1053" y="474.2" width="3.4" height="3.4" fill="#5b82c8"/>
<text x="1059" y="478.6" class="lg" textLength="29" lengthAdjust="spacingAndGlyphs">Basal visit</text>
<rect x="1097.4" y="474.2" width="3.4" height="3.4" fill="#e98b4b"/>
<text x="1103" y="478.6" class="lg" textLength="39" lengthAdjust="spacingAndGlyphs">6 month visit</text>
<rect x="1152" y="474.2" width="3.4" height="3.4" fill="#acacac"/>
<text x="1157" y="478.6" class="lg" textLength="42" lengthAdjust="spacingAndGlyphs">12 month visit</text>
<path fill-rule="evenodd" d="M804.3 25.1 L812.6 25.1 C820.2 25.1 824.4 29.6 824.4 36.7 C824.4 44.0 819.7 48.6 811.8 48.6 L804.3 48.6 Z M810.1 29.6 L810.1 44.1 L812.0 44.1 C816.6 44.1 818.8 41.5 818.8 36.8 C818.8 32.1 816.5 29.6 812.3 29.6 Z" fill="#000"/>
</svg>
<div class="cap" style="left:15.67px;top:501.6px;font-size:21.5px;transform:scaleX(1.017)">图</div>
<div class="cap" style="left:43.42px;top:502.4px;font-size:22.4px;transform:scaleX(0.882)">2</div>
<div class="cap" style="left:62.96px;top:502.4px;font-size:22.4px;transform:scaleX(0.836)">C</div>
<div class="cap" style="left:83.6px;top:501.6px;font-size:21.5px;transform:scaleX(0.978)">模式反转视觉诱发电位</div>
<div class="cap" style="left:303.03px;top:502.4px;font-size:22.4px;transform:scaleX(0.865)">(PRVEPda60')</div>
<div class="cap" style="left:433.4px;top:501.6px;font-size:21.5px;transform:scaleX(1.0)">的</div>
<div class="cap" style="left:460.53px;top:502.4px;font-size:22.4px;transform:scaleX(0.886)">P100</div>
<div class="cap" style="left:514.2px;top:501.6px;font-size:21.5px;transform:scaleX(0.956)">振幅</div>
<div class="cap" style="left:548.3px;top:501.6px;font-size:21.5px;transform:scaleX(1.0)">，</div>
<div class="cap" style="left:580.0px;top:501.6px;font-size:21.5px;transform:scaleX(0.954)">检查范围为</div>
<div class="cap" style="left:690.87px;top:502.4px;font-size:22.4px;transform:scaleX(0.935)">60</div>
<div class="cap" style="left:720.04px;top:501.6px;font-size:21.5px;transform:scaleX(0.964)">弧分</div>
<div class="cap" style="left:768.08px;top:502.4px;font-size:22.4px;transform:scaleX(0.917)">(μV)</div>
<div class="cap" style="left:829.09px;top:502.4px;font-size:22.4px;transform:scaleX(0.909)">0</div>
<div class="cap" style="left:846.63px;top:501.6px;font-size:21.5px;transform:scaleX(0.972)">表示无法记录</div>
<div class="cap" style="left:968.7px;top:501.6px;font-size:21.5px;transform:scaleX(1.0)">，</div>
<div class="cap" style="left:998.9px;top:501.6px;font-size:21.5px;transform:scaleX(0.968)">仅有噪音</div>
<div class="cap" style="left:1106.08px;top:502.4px;font-size:22.4px;transform:scaleX(0.862)">D</div>
<div class="cap" style="left:1126.04px;top:501.6px;font-size:21.5px;transform:scaleX(0.982)">闪光视觉诱发电位</div>
<div class="cap" style="left:1304.18px;top:502.4px;font-size:22.4px;transform:scaleX(0.817)">(FVEP)</div>
<div class="cap" style="left:1370.05px;top:501.6px;font-size:21.5px;transform:scaleX(0.947)">的</div>
<div class="cap" style="left:1395.16px;top:502.4px;font-size:22.4px;transform:scaleX(0.92)">P2</div>
<div class="cap" style="left:1427.0px;top:501.6px;font-size:21.5px;transform:scaleX(0.977)">振幅</div>
<div class="cap" style="left:1462.0px;top:501.6px;font-size:21.5px;transform:scaleX(1.0)">，</div>
<div class="cap" style="left:16.86px;top:533.6px;font-size:21.5px;transform:scaleX(0.971)">以微伏</div>
<div class="cap" style="left:85.79px;top:534.1px;font-size:22.4px;transform:scaleX(0.91)">(μV)</div>
<div class="cap" style="left:131.52px;top:533.6px;font-size:21.5px;transform:scaleX(0.977)">为单位</div>
<div class="dot" style="left:809.7px;top:519.9px"></div><div class="dot" style="left:1085.9px;top:519.9px"></div>
</body></html>
